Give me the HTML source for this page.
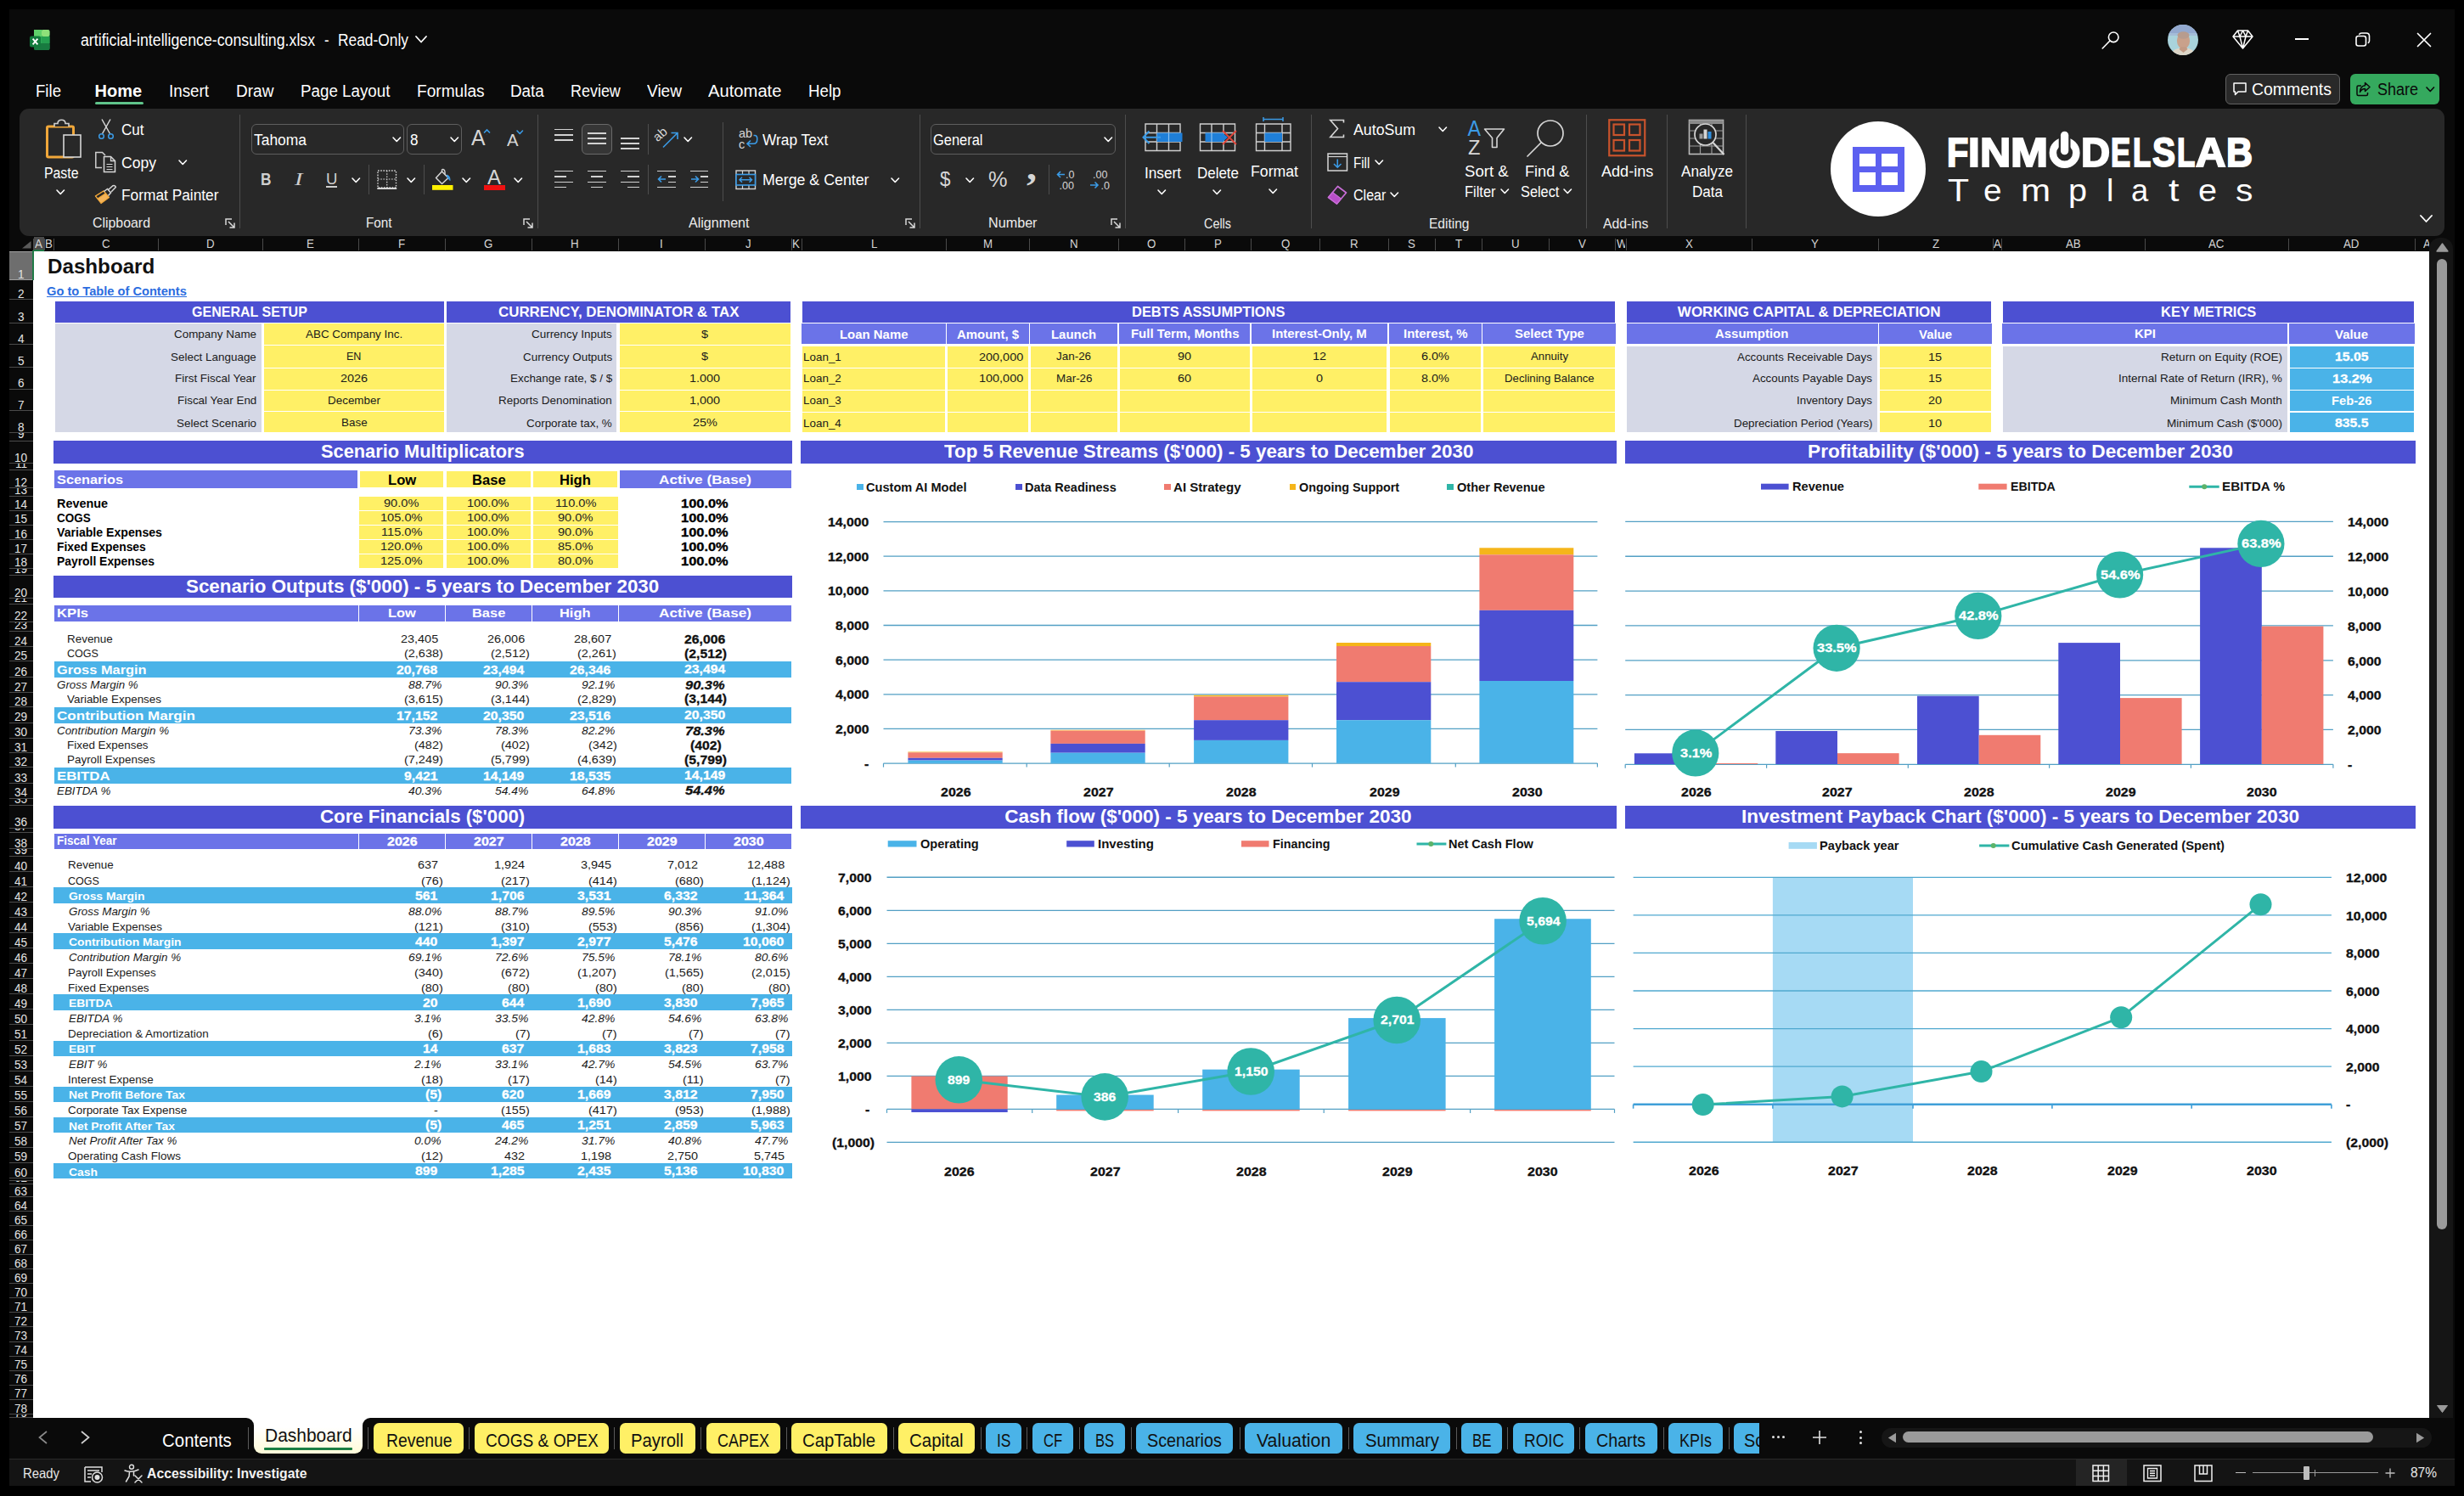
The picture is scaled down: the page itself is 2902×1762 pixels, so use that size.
<!DOCTYPE html>
<html><head><meta charset="utf-8"><title>artificial-intelligence-consulting.xlsx - Excel</title>
<style>
html,body{margin:0;padding:0;background:#000;}
body{width:2902px;height:1762px;position:relative;overflow:hidden;font-family:"Liberation Sans",sans-serif;}
.r{position:absolute;display:block;}
.t{position:absolute;white-space:nowrap;line-height:1;transform-origin:0 0;font-family:"Liberation Sans",sans-serif;}
.b{font-weight:bold;}
.i{font-style:italic;}
.s{font-family:"Liberation Serif",serif;}
svg{overflow:visible;}
</style></head><body>
<div class="r" style="left:11px;top:11px;width:2879.5px;height:1739px;background:#0a0a0a;"></div>
<svg class="r" style="left:35px;top:35px;" width="24" height="25" viewBox="0 0 24 25"><rect x="5" y="0" width="18.5" height="24" rx="2.5" fill="#1f8a4c"/>
<rect x="5" y="0" width="9.5" height="8" fill="#5fd06a"/><rect x="14" y="0" width="9.5" height="8" rx="2" fill="#8fe07a"/>
<rect x="5" y="8" width="9.5" height="8" fill="#2eaa58"/><rect x="14" y="8" width="9.5" height="8" fill="#25a050"/>
<rect x="5" y="16" width="18.5" height="8" rx="2" fill="#187a40"/>
<rect x="0" y="7.5" width="13" height="13" rx="2" fill="#127b3c"/>
<path d="M3.6 10.6 L9.4 17.4 M9.4 10.6 L3.6 17.4" stroke="#fff" stroke-width="1.9"/></svg>
<div class="t" style="left:95px;top:37.07px;font-size:20px;color:#fff;transform:scaleX(0.887);">artificial-intelligence-consulting.xlsx</div>
<div class="t" style="left:382px;top:37.07px;font-size:20px;color:#fff;transform:scaleX(0.826);">-</div>
<div class="t" style="left:398px;top:37.07px;font-size:20px;color:#fff;transform:scaleX(0.868);">Read-Only</div>
<svg class="r" style="left:488.5px;top:42.25px;" width="14" height="8.5" viewBox="0 0 14 8.5"><path d="M1 1 L7 7.5 L13 1" fill="none" stroke="#fff" stroke-width="1.8" stroke-linecap="round" stroke-linejoin="round"/></svg>
<svg class="r" style="left:2474px;top:35px;" width="24" height="24" viewBox="0 0 24 24"><circle cx="15.2" cy="8.8" r="5.8" fill="none" stroke="#fff" stroke-width="1.6"/><path d="M11 13 L2.2 22" stroke="#fff" stroke-width="1.6" stroke-linecap="round"/></svg>
<svg class="r" style="left:2552.8px;top:29px;" width="36" height="36" viewBox="0 0 36 36"><defs><clipPath id="av"><circle cx="18" cy="18" r="18"/></clipPath></defs>
<g clip-path="url(#av)"><rect width="36" height="36" fill="#a9d3dc"/><rect y="0" width="36" height="10" fill="#93a9cf"/><rect y="10" width="36" height="3" fill="#a4bdd8"/>
<path d="M3 36 Q6 27.500 18.500 27 Q31 27.500 33 36 Z" fill="#ddd6c8"/>
<ellipse cx="18.500" cy="19" rx="7.600" ry="9.600" fill="#c9a18b"/><ellipse cx="18.500" cy="12.500" rx="7" ry="4.200" fill="#b79c8e"/>
<path d="M13.500 29 L18.500 33 L23.500 29 L22 26.500 H15 Z" fill="#c29a84"/></g></svg>
<svg class="r" style="left:2629px;top:35px;" width="25" height="23" viewBox="0 0 25 23"><path d="M6.5 1 H18.5 L24 8 L12.500 22 L1 8 Z M1 8 H24 M6.500 1 L9 8 L12.500 22 L16 8 L18.500 1 M9 8 L12.5 1 L16 8" fill="none" stroke="#fff" stroke-width="1.5" stroke-linejoin="round"/></svg>
<div class="r" style="left:2703px;top:45.2px;width:15.5px;height:1.6px;background:#fff;"></div>
<svg class="r" style="left:2774px;top:38px;" width="18" height="18" viewBox="0 0 18 18"><rect x="1" y="4.5" width="11.5" height="11.5" rx="2.5" fill="none" stroke="#fff" stroke-width="1.6"/><path d="M4.5 2.8 Q5 1 7.500 1 H13 Q16.500 1 16.500 4.500 V10 Q16.500 12.200 14.800 12.800" fill="none" stroke="#fff" stroke-width="1.6"/></svg>
<svg class="r" style="left:2846px;top:38px;" width="18" height="18" viewBox="0 0 18 18"><path d="M1.5 1.5 L16.500 16.500 M16.500 1.500 L1.500 16.500" stroke="#fff" stroke-width="1.7" stroke-linecap="round"/></svg>
<div class="t" style="left:42px;top:96.77px;font-size:20px;color:#fff;transform:scaleX(0.931);">File</div>
<div class="t b" style="left:111.5px;top:96.77px;font-size:20px;color:#fff;">Home</div>
<div class="t" style="left:198.5px;top:96.77px;font-size:20px;color:#fff;transform:scaleX(0.940);">Insert</div>
<div class="t" style="left:277.6px;top:96.77px;font-size:20px;color:#fff;transform:scaleX(0.951);">Draw</div>
<div class="t" style="left:353.6px;top:96.77px;font-size:20px;color:#fff;transform:scaleX(0.938);">Page Layout</div>
<div class="t" style="left:491.4px;top:96.77px;font-size:20px;color:#fff;transform:scaleX(0.955);">Formulas</div>
<div class="t" style="left:600.6px;top:96.77px;font-size:20px;color:#fff;transform:scaleX(0.942);">Data</div>
<div class="t" style="left:671.7px;top:96.77px;font-size:20px;color:#fff;transform:scaleX(0.897);">Review</div>
<div class="t" style="left:762px;top:96.77px;font-size:20px;color:#fff;transform:scaleX(0.954);">View</div>
<div class="t" style="left:834px;top:96.77px;font-size:20px;color:#fff;transform:scaleX(1.010);">Automate</div>
<div class="t" style="left:951.7px;top:96.77px;font-size:20px;color:#fff;transform:scaleX(0.936);">Help</div>
<div class="r" style="left:111.5px;top:119.8px;width:57.5px;height:3px;background:#5fc38a;border-radius:1.5px;"></div>
<div class="r" style="left:2621px;top:87px;width:135px;height:36px;background:#292929;border-radius:6px;border:1px solid #616161;box-sizing:border-box;"></div>
<svg class="r" style="left:2628.5px;top:96px;" width="18" height="18" viewBox="0 0 18 18"><path d="M2 2 H16 V12 H7 L3.5 15.5 V12 H2 Z" fill="none" stroke="#fff" stroke-width="1.5" stroke-linejoin="round"/></svg>
<div class="t" style="left:2652px;top:95.07px;font-size:20px;color:#fff;transform:scaleX(0.972);">Comments</div>
<div class="r" style="left:2768px;top:87px;width:105px;height:36px;background:#35a95e;border-radius:6px;"></div>
<svg class="r" style="left:2773.5px;top:96px;" width="19" height="18" viewBox="0 0 19 18"><path d="M7 5 H3.5 Q2 5 2 6.500 V15 Q2 16.500 3.500 16.500 H13 Q14.500 16.500 14.500 15 V13" fill="none" stroke="#0a0a0a" stroke-width="1.5"/><path d="M11.5 1.5 L17 6.500 L11.500 11.500 V8.500 Q7.500 8.500 5.500 12.500 Q5.800 5.200 11.500 4.700 Z" fill="none" stroke="#0a0a0a" stroke-width="1.5" stroke-linejoin="round"/></svg>
<div class="t" style="left:2800px;top:95.07px;font-size:20px;color:#0a0a0a;transform:scaleX(0.899);">Share</div>
<svg class="r" style="left:2857.05px;top:101.75px;" width="10.5" height="6.5" viewBox="0 0 10.5 6.5"><path d="M1 1 L5.25 5.5 L9.5 1" fill="none" stroke="#0a0a0a" stroke-width="1.7" stroke-linecap="round" stroke-linejoin="round"/></svg>
<div class="r" style="left:23px;top:128px;width:2855.8px;height:149.8px;background:#282828;border-radius:11px;"></div>
<svg class="r" style="left:54px;top:140px;" width="44" height="48" viewBox="0 0 44 48"><rect x="1.5" y="9" width="31" height="36" rx="1.5" fill="none" stroke="#f0a73a" stroke-width="3"/>
<path d="M10 9 V5.500 H14 Q14 1.200 18.500 1.200 Q23 1.200 23 5.500 H27 V9" fill="#282828" stroke="#cfcfcf" stroke-width="1.6"/>
<rect x="21" y="19" width="20" height="26" fill="#282828" stroke="#d6d6d6" stroke-width="1.6"/></svg>
<div class="t" style="left:51.5px;top:194.76px;font-size:18px;color:#fff;transform:scaleX(0.880);">Paste</div>
<svg class="r" style="left:66.05px;top:223.25px;" width="10.5" height="6.5" viewBox="0 0 10.5 6.5"><path d="M1 1 L5.25 5.5 L9.5 1" fill="none" stroke="#fff" stroke-width="1.6" stroke-linecap="round" stroke-linejoin="round"/></svg>
<svg class="r" style="left:115px;top:139px;" width="20" height="27" viewBox="0 0 20 27"><path d="M5 1.500 L14.500 18.500 M15 1.500 L5.500 18.500" stroke="#d6d6d6" stroke-width="1.5" fill="none"/>
<circle cx="4.5" cy="21.5" r="2.800" fill="none" stroke="#3b9be6" stroke-width="1.5"/><circle cx="15.5" cy="21.5" r="2.800" fill="none" stroke="#3b9be6" stroke-width="1.5"/></svg>
<div class="t" style="left:142.5px;top:143.76px;font-size:18px;color:#fff;transform:scaleX(0.946);">Cut</div>
<svg class="r" style="left:111px;top:178px;" width="27" height="26" viewBox="0 0 27 26"><path d="M9 19.500 H1.800 V1.500 H9.500 L13 5" fill="none" stroke="#cfcfcf" stroke-width="1.5"/>
<path d="M11.5 6.500 H19.500 L24.500 11.500 V24.500 H11.500 Z" fill="#282828" stroke="#d6d6d6" stroke-width="1.5"/><path d="M19.500 6.500 V11.500 H24.500" fill="none" stroke="#d6d6d6" stroke-width="1.3"/>
<path d="M14.500 15.500 H21.500 M14.500 18.500 H21.500 M14.500 21.500 H21.500" stroke="#d6d6d6" stroke-width="1.100"/></svg>
<div class="t" style="left:142.5px;top:183.26px;font-size:18px;color:#fff;transform:scaleX(0.976);">Copy</div>
<svg class="r" style="left:210.05px;top:188.25px;" width="10.5" height="6.5" viewBox="0 0 10.5 6.5"><path d="M1 1 L5.25 5.5 L9.5 1" fill="none" stroke="#fff" stroke-width="1.6" stroke-linecap="round" stroke-linejoin="round"/></svg>
<svg class="r" style="left:111px;top:217px;" width="27" height="24" viewBox="0 0 27 24"><path d="M1.500 14 L11 8 L17.500 15.500 L8 22.500 Z" fill="#f3b45a" stroke="#f0a73a" stroke-width="1.200" stroke-linejoin="round"/>
<path d="M1.500 14 L11 8 L13.500 10.800 L4 17 Z" fill="#282828" stroke="#f0a73a" stroke-width="1.200"/>
<path d="M11.500 8.500 L15.500 5.500 L19.500 10 L16.500 13.500" fill="none" stroke="#d6d6d6" stroke-width="1.500"/>
<path d="M16.500 6.500 L22 1.800 Q24.800 1 25.300 3.500 L20 9" fill="none" stroke="#d6d6d6" stroke-width="1.500"/></svg>
<div class="t" style="left:142.5px;top:220.76px;font-size:18px;color:#fff;transform:scaleX(0.962);">Format Painter</div>
<div class="t" style="left:109px;top:253.61px;font-size:17px;color:#ececec;transform:scaleX(0.934);">Clipboard</div>
<svg class="r" style="left:265px;top:257px;" width="12" height="12" viewBox="0 0 12 12"><path d="M1 8 V1 H8 M4 4 L11 11 M11 5.5 V11 H5.5" fill="none" stroke="#d8d8d8" stroke-width="1.5"/></svg>
<div class="r" style="left:282px;top:135px;width:1px;height:134px;background:#4d4d4d;"></div>
<div class="r" style="left:295.5px;top:146.4px;width:180px;height:35.2px;background:#282828;border-radius:6px;border:1px solid #5e5e5e;box-sizing:border-box;"></div>
<div class="t" style="left:299px;top:155.76px;font-size:18px;color:#fff;transform:scaleX(0.968);">Tahoma</div>
<svg class="r" style="left:462.25px;top:160.75px;" width="10.5" height="6.5" viewBox="0 0 10.5 6.5"><path d="M1 1 L5.25 5.5 L9.5 1" fill="none" stroke="#fff" stroke-width="1.6" stroke-linecap="round" stroke-linejoin="round"/></svg>
<div class="r" style="left:479px;top:146.4px;width:65px;height:35.2px;background:#282828;border-radius:6px;border:1px solid #5e5e5e;box-sizing:border-box;"></div>
<div class="t" style="left:482.5px;top:155.76px;font-size:18px;color:#fff;transform:scaleX(0.949);">8</div>
<svg class="r" style="left:530.25px;top:160.75px;" width="10.5" height="6.5" viewBox="0 0 10.5 6.5"><path d="M1 1 L5.25 5.5 L9.5 1" fill="none" stroke="#fff" stroke-width="1.6" stroke-linecap="round" stroke-linejoin="round"/></svg>
<div class="t" style="left:554.5px;top:149.49px;font-size:26px;color:#d6d6d6;transform:scaleX(0.951);">A</div>
<svg class="r" style="left:569.25px;top:152.75px;" width="8.5" height="5.5" viewBox="0 0 8.5 5.5"><path d="M1 1 L4.25 4.5 L7.5 1" fill="none" stroke="#3b9be6" stroke-width="1.6" stroke-linecap="round" stroke-linejoin="round"/></svg>
<svg class="r" style="left:569px;top:151.5px;background:#282828;" width="9" height="6" viewBox="0 0 9 6"><path d="M1 4.500 L4.500 1 L8 4.500" fill="none" stroke="#3b9be6" stroke-width="1.600"/></svg>
<div class="t" style="left:596.5px;top:153.72px;font-size:21px;color:#d6d6d6;transform:scaleX(0.964);">A</div>
<svg class="r" style="left:608.25px;top:152.75px;" width="8.5" height="5.5" viewBox="0 0 8.5 5.5"><path d="M1 1 L4.25 4.5 L7.5 1" fill="none" stroke="#3b9be6" stroke-width="1.6" stroke-linecap="round" stroke-linejoin="round"/></svg>
<div class="t b" style="left:307px;top:201.07px;font-size:20px;color:#cfcfcf;transform:scaleX(0.865);">B</div>
<div class="t i s" style="left:346.6px;top:201.33px;font-size:20px;color:#cfcfcf;transform:scaleX(1.426);">I</div>
<div class="t" style="left:383.6px;top:200.92px;font-size:19px;color:#cfcfcf;transform:scaleX(0.977);">U</div>
<div class="r" style="left:383.6px;top:219.3px;width:13.4px;height:1.5px;background:#cfcfcf;"></div>
<svg class="r" style="left:414.25px;top:209.45px;" width="10.5" height="6.5" viewBox="0 0 10.5 6.5"><path d="M1 1 L5.25 5.5 L9.5 1" fill="none" stroke="#fff" stroke-width="1.6" stroke-linecap="round" stroke-linejoin="round"/></svg>
<div class="r" style="left:433.9px;top:194px;width:1px;height:35px;background:#4d4d4d;"></div>
<svg class="r" style="left:444px;top:200px;" width="24" height="24" viewBox="0 0 24 24"><rect x="1" y="1" width="21.500" height="20" fill="none" stroke="#d6d6d6" stroke-width="1.400" stroke-dasharray="1.6 1.6"/>
<path d="M11.750 1 V21 M1 11 H22.500" stroke="#d6d6d6" stroke-width="1.200" stroke-dasharray="1.6 1.6"/><path d="M0.3 22 H23.200" stroke="#e6e6e6" stroke-width="1.800"/></svg>
<svg class="r" style="left:479.25px;top:209.45px;" width="10.5" height="6.5" viewBox="0 0 10.5 6.5"><path d="M1 1 L5.25 5.5 L9.5 1" fill="none" stroke="#fff" stroke-width="1.6" stroke-linecap="round" stroke-linejoin="round"/></svg>
<div class="r" style="left:498.9px;top:194px;width:1px;height:35px;background:#4d4d4d;"></div>
<svg class="r" style="left:509px;top:199px;" width="26" height="26" viewBox="0 0 26 26"><path d="M4.500 10.500 L11.500 3 L19 10.500 L11.500 17.500 Z" fill="none" stroke="#d6d6d6" stroke-width="1.500" stroke-linejoin="round"/>
<path d="M11.500 3 V1.200 Q11.500 0.300 13 0.500 Q15 1 15 3.500 V6.500" fill="none" stroke="#d6d6d6" stroke-width="1.400"/>
<path d="M17.500 7 Q21 8 21 13.500 Q18.500 11 17.800 9.300 Z" fill="#3b9be6" stroke="#3b9be6" stroke-width="1"/>
<rect x="0" y="19" width="24.500" height="5.800" fill="#fff100"/></svg>
<svg class="r" style="left:543.95px;top:209.45px;" width="10.5" height="6.5" viewBox="0 0 10.5 6.5"><path d="M1 1 L5.25 5.5 L9.5 1" fill="none" stroke="#fff" stroke-width="1.6" stroke-linecap="round" stroke-linejoin="round"/></svg>
<div class="t" style="left:574px;top:197.53px;font-size:23px;color:#d6d6d6;transform:scaleX(1.043);">A</div>
<div class="r" style="left:570px;top:218.2px;width:24.5px;height:5.8px;background:#ee1111;"></div>
<svg class="r" style="left:604.75px;top:209.45px;" width="10.5" height="6.5" viewBox="0 0 10.5 6.5"><path d="M1 1 L5.25 5.5 L9.5 1" fill="none" stroke="#fff" stroke-width="1.6" stroke-linecap="round" stroke-linejoin="round"/></svg>
<div class="t" style="left:430.7px;top:253.61px;font-size:17px;color:#ececec;transform:scaleX(0.897);">Font</div>
<svg class="r" style="left:616px;top:257px;" width="12" height="12" viewBox="0 0 12 12"><path d="M1 8 V1 H8 M4 4 L11 11 M11 5.5 V11 H5.5" fill="none" stroke="#d8d8d8" stroke-width="1.5"/></svg>
<div class="r" style="left:633px;top:135px;width:1px;height:134px;background:#4d4d4d;"></div>
<div class="r" style="left:652.7px;top:151.9px;width:22.3px;height:1.6px;background:#d2d2d2;"></div>
<div class="r" style="left:652.7px;top:158.2px;width:22.3px;height:1.6px;background:#d2d2d2;"></div>
<div class="r" style="left:652.7px;top:164px;width:22.3px;height:1.6px;background:#d2d2d2;"></div>
<div class="r" style="left:685px;top:146.4px;width:36px;height:35.2px;background:#363636;border-radius:6px;border:1px solid #6a6a6a;box-sizing:border-box;"></div>
<div class="r" style="left:691.7px;top:156.2px;width:21.9px;height:1.6px;background:#d2d2d2;"></div>
<div class="r" style="left:691.7px;top:162.2px;width:21.9px;height:1.6px;background:#d2d2d2;"></div>
<div class="r" style="left:691.7px;top:168.2px;width:21.9px;height:1.6px;background:#d2d2d2;"></div>
<div class="r" style="left:731px;top:162.2px;width:22px;height:1.6px;background:#d2d2d2;"></div>
<div class="r" style="left:731px;top:168.2px;width:22px;height:1.6px;background:#d2d2d2;"></div>
<div class="r" style="left:731px;top:174.2px;width:22px;height:1.6px;background:#d2d2d2;"></div>
<div class="r" style="left:762.9px;top:146.4px;width:1px;height:35.2px;background:#4d4d4d;"></div>
<svg class="r" style="left:772px;top:150px;" width="28" height="26" viewBox="0 0 28 26"><text x="0" y="0" transform="translate(2.5,17.5) rotate(-42)" font-family="Liberation Sans" font-size="15" fill="#d6d6d6">ab</text>
<path d="M9 23.500 L25.500 7 M18.500 6.500 H26 V14" fill="none" stroke="#3b9be6" stroke-width="1.600"/></svg>
<svg class="r" style="left:805.25px;top:160.75px;" width="10.5" height="6.5" viewBox="0 0 10.5 6.5"><path d="M1 1 L5.25 5.5 L9.5 1" fill="none" stroke="#fff" stroke-width="1.6" stroke-linecap="round" stroke-linejoin="round"/></svg>
<div class="r" style="left:850.5px;top:144px;width:1px;height:93px;background:#4d4d4d;"></div>
<svg class="r" style="left:869px;top:151px;" width="24" height="26" viewBox="0 0 24 26"><text x="1" y="11" font-family="Liberation Sans" font-size="14.500" fill="#d6d6d6">ab</text><text x="1" y="23.500" font-family="Liberation Sans" font-size="14.500" fill="#d6d6d6">c</text>
<path d="M18.500 8.500 H20 Q22.800 8.500 22.800 12.800 Q22.800 18.300 18.500 18.300 H11.500 M15 14.500 L11 18.300 L15 22" fill="none" stroke="#3b9be6" stroke-width="1.600"/></svg>
<div class="t" style="left:897.5px;top:155.76px;font-size:18px;color:#fff;transform:scaleX(0.962);">Wrap Text</div>
<svg class="r" style="left:866px;top:199.5px;" width="25" height="24" viewBox="0 0 25 24"><rect x="1" y="1" width="22.500" height="21.500" fill="none" stroke="#d6d6d6" stroke-width="1.400"/><path d="M8.500 1 V5.500 M16 1 V5.500 M8.500 18 V22.500 M16 18 V22.500" stroke="#d6d6d6" stroke-width="1.200"/>
<rect x="1" y="5.500" width="22.500" height="12.500" fill="#282828" stroke="#3b9be6" stroke-width="1.600"/>
<path d="M5 11.750 H19.500 M8 8.800 L5 11.750 L8 14.700 M16.500 8.800 L19.500 11.750 L16.500 14.700" fill="none" stroke="#3b9be6" stroke-width="1.500"/></svg>
<div class="t" style="left:897.5px;top:203.36px;font-size:18px;color:#fff;transform:scaleX(0.988);">Merge &amp; Center</div>
<svg class="r" style="left:1049.15px;top:209.45px;" width="10.5" height="6.5" viewBox="0 0 10.5 6.5"><path d="M1 1 L5.25 5.5 L9.5 1" fill="none" stroke="#fff" stroke-width="1.6" stroke-linecap="round" stroke-linejoin="round"/></svg>
<div class="r" style="left:652.7px;top:200.9px;width:22.3px;height:1.6px;background:#d2d2d2;"></div>
<div class="r" style="left:652.7px;top:207.2px;width:14.3px;height:1.6px;background:#d2d2d2;"></div>
<div class="r" style="left:652.7px;top:213.5px;width:22.3px;height:1.6px;background:#d2d2d2;"></div>
<div class="r" style="left:652.7px;top:219.7px;width:14.3px;height:1.6px;background:#d2d2d2;"></div>
<div class="r" style="left:691.7px;top:200.9px;width:21.9px;height:1.6px;background:#d2d2d2;"></div>
<div class="r" style="left:695.5px;top:207.2px;width:14.3px;height:1.6px;background:#d2d2d2;"></div>
<div class="r" style="left:691.7px;top:213.5px;width:21.9px;height:1.6px;background:#d2d2d2;"></div>
<div class="r" style="left:695.5px;top:219.7px;width:14.3px;height:1.6px;background:#d2d2d2;"></div>
<div class="r" style="left:731px;top:200.9px;width:22px;height:1.6px;background:#d2d2d2;"></div>
<div class="r" style="left:739px;top:207.2px;width:14px;height:1.6px;background:#d2d2d2;"></div>
<div class="r" style="left:731px;top:213.5px;width:22px;height:1.6px;background:#d2d2d2;"></div>
<div class="r" style="left:739px;top:219.7px;width:14px;height:1.6px;background:#d2d2d2;"></div>
<div class="r" style="left:762.9px;top:194px;width:1px;height:35px;background:#4d4d4d;"></div>
<div class="r" style="left:774px;top:200.9px;width:21.8px;height:1.6px;background:#d2d2d2;"></div>
<div class="r" style="left:786.5px;top:207.2px;width:9.3px;height:1.6px;background:#d2d2d2;"></div>
<div class="r" style="left:786.5px;top:213.5px;width:9.3px;height:1.6px;background:#d2d2d2;"></div>
<div class="r" style="left:774px;top:219.7px;width:21.8px;height:1.6px;background:#d2d2d2;"></div>
<svg class="r" style="left:774px;top:205px;" width="12" height="12" viewBox="0 0 12 12"><path d="M10 6 H1.500 M5 2.500 L1.500 6 L5 9.500" fill="none" stroke="#3b9be6" stroke-width="1.600"/></svg>
<div class="r" style="left:812.5px;top:200.9px;width:21.8px;height:1.6px;background:#d2d2d2;"></div>
<div class="r" style="left:825px;top:207.2px;width:9.3px;height:1.6px;background:#d2d2d2;"></div>
<div class="r" style="left:825px;top:213.5px;width:9.3px;height:1.6px;background:#d2d2d2;"></div>
<div class="r" style="left:812.5px;top:219.7px;width:21.8px;height:1.6px;background:#d2d2d2;"></div>
<svg class="r" style="left:812.5px;top:205px;" width="12" height="12" viewBox="0 0 12 12"><path d="M1 6 H9.500 M6 2.500 L9.500 6 L6 9.500" fill="none" stroke="#3b9be6" stroke-width="1.600"/></svg>
<div class="t" style="left:810.5px;top:253.61px;font-size:17px;color:#ececec;transform:scaleX(0.946);">Alignment</div>
<svg class="r" style="left:1066px;top:257px;" width="12" height="12" viewBox="0 0 12 12"><path d="M1 8 V1 H8 M4 4 L11 11 M11 5.5 V11 H5.5" fill="none" stroke="#d8d8d8" stroke-width="1.5"/></svg>
<div class="r" style="left:1082.5px;top:135px;width:1px;height:134px;background:#4d4d4d;"></div>
<div class="r" style="left:1096.3px;top:146.4px;width:217.3px;height:35.2px;background:#282828;border-radius:6px;border:1px solid #5e5e5e;box-sizing:border-box;"></div>
<div class="t" style="left:1099.4px;top:155.76px;font-size:18px;color:#fff;transform:scaleX(0.914);">General</div>
<svg class="r" style="left:1299.95px;top:160.75px;" width="10.5" height="6.5" viewBox="0 0 10.5 6.5"><path d="M1 1 L5.25 5.5 L9.5 1" fill="none" stroke="#fff" stroke-width="1.6" stroke-linecap="round" stroke-linejoin="round"/></svg>
<div class="t" style="left:1107px;top:199.18px;font-size:24px;color:#d6d6d6;transform:scaleX(0.936);">$</div>
<svg class="r" style="left:1137.05px;top:209.45px;" width="10.5" height="6.5" viewBox="0 0 10.5 6.5"><path d="M1 1 L5.25 5.5 L9.5 1" fill="none" stroke="#fff" stroke-width="1.6" stroke-linecap="round" stroke-linejoin="round"/></svg>
<div class="t" style="left:1163.5px;top:198.84px;font-size:25px;color:#d6d6d6;transform:scaleX(1.012);">%</div>
<div class="t b s" style="left:1209px;top:175.83px;font-size:44px;color:#d6d6d6;transform:scaleX(1.091);">,</div>
<div class="r" style="left:1235.1px;top:194px;width:1px;height:35px;background:#4d4d4d;"></div>
<svg class="r" style="left:1244px;top:199px;" width="26" height="26" viewBox="0 0 26 26"><text x="11" y="11" font-family="Liberation Sans" font-size="12.500" fill="#d6d6d6">.0</text><text x="3.500" y="23.500" font-family="Liberation Sans" font-size="12.500" fill="#d6d6d6">.00</text>
<path d="M10 6.500 H1.500 M5 3 L1.500 6.500 L5 10" fill="none" stroke="#3b9be6" stroke-width="1.600"/></svg>
<svg class="r" style="left:1283px;top:199px;" width="26" height="26" viewBox="0 0 26 26"><text x="4" y="11" font-family="Liberation Sans" font-size="12.500" fill="#d6d6d6">.00</text><text x="13.500" y="23.500" font-family="Liberation Sans" font-size="12.500" fill="#d6d6d6">.0</text>
<path d="M1 19 H10 M6.500 15.500 L10 19 L6.500 22.500" fill="none" stroke="#3b9be6" stroke-width="1.600"/></svg>
<div class="t" style="left:1163.5px;top:253.61px;font-size:17px;color:#ececec;transform:scaleX(0.951);">Number</div>
<svg class="r" style="left:1308px;top:257px;" width="12" height="12" viewBox="0 0 12 12"><path d="M1 8 V1 H8 M4 4 L11 11 M11 5.5 V11 H5.5" fill="none" stroke="#d8d8d8" stroke-width="1.5"/></svg>
<div class="r" style="left:1324.5px;top:135px;width:1px;height:134px;background:#4d4d4d;"></div>
<svg class="r" style="left:1345px;top:145px;" width="50" height="34" viewBox="0 0 50 34"><path d="M4 1 H45 V32.5 H4 Z M4 11.5 H45 M4 22 H45 M17.5 1 V32.5 M31.5 1 V32.5" fill="none" stroke="#d0d0d0" stroke-width="1.400"/><rect x="17.500" y="11.500" width="30" height="10.500" fill="#1f7fd8"/><path d="M31.500 11.500 V22" stroke="#8cc4f4" stroke-width="1.200"/><path d="M22 16.750 H2 M8.500 9.500 L1.500 16.750 L8.500 24" fill="none" stroke="#3b9be6" stroke-width="2"/></svg>
<div class="t" style="left:1348px;top:194.76px;font-size:18px;color:#fff;transform:scaleX(0.955);">Insert</div>
<svg class="r" style="left:1362.75px;top:223.25px;" width="10.5" height="6.5" viewBox="0 0 10.5 6.5"><path d="M1 1 L5.25 5.5 L9.5 1" fill="none" stroke="#fff" stroke-width="1.6" stroke-linecap="round" stroke-linejoin="round"/></svg>
<svg class="r" style="left:1412px;top:145px;" width="48" height="34" viewBox="0 0 48 34"><path d="M1.5 1 H42.5 V32.5 H1.5 Z M1.5 11.5 H42.5 M1.5 22 H42.5 M15 1 V32.5 M29 1 V32.5" fill="none" stroke="#d0d0d0" stroke-width="1.400"/><rect x="7.500" y="11.500" width="21.500" height="10.500" fill="#1f7fd8"/><path d="M15 11.500 V22" stroke="#8cc4f4" stroke-width="1.200"/><path d="M28 11.500 L34 16.750 L28 22 Z" fill="#1f7fd8"/><path d="M28 9 L44 25 M44 9 L28 25" stroke="#e0453a" stroke-width="1.800"/></svg>
<div class="t" style="left:1410px;top:194.76px;font-size:18px;color:#fff;transform:scaleX(0.942);">Delete</div>
<svg class="r" style="left:1428.05px;top:223.25px;" width="10.5" height="6.5" viewBox="0 0 10.5 6.5"><path d="M1 1 L5.25 5.5 L9.5 1" fill="none" stroke="#fff" stroke-width="1.6" stroke-linecap="round" stroke-linejoin="round"/></svg>
<svg class="r" style="left:1478px;top:137px;" width="44" height="42" viewBox="0 0 44 42"><path d="M10 3.500 H33 M10 1 V6 M33 1 V6" stroke="#3b9be6" stroke-width="1.500" fill="none"/><path d="M1.5 9 H42 V40.5 H1.5 Z M1.5 19.5 H42 M1.5 30 H42 M11.5 9 V40.5 M32 9 V40.5" fill="none" stroke="#d0d0d0" stroke-width="1.400"/><rect x="11.500" y="19.500" width="20.500" height="10.500" fill="#1f7fd8"/></svg>
<div class="t" style="left:1473px;top:192.76px;font-size:18px;color:#fff;transform:scaleX(0.982);">Format</div>
<svg class="r" style="left:1494.25px;top:221.55px;" width="10.5" height="6.5" viewBox="0 0 10.5 6.5"><path d="M1 1 L5.25 5.5 L9.5 1" fill="none" stroke="#fff" stroke-width="1.6" stroke-linecap="round" stroke-linejoin="round"/></svg>
<div class="t" style="left:1418px;top:254.61px;font-size:17px;color:#ececec;transform:scaleX(0.847);">Cells</div>
<div class="r" style="left:1544.1px;top:135px;width:1px;height:134px;background:#4d4d4d;"></div>
<svg class="r" style="left:1565px;top:140px;" width="20" height="24" viewBox="0 0 20 24"><path d="M17.500 4.500 V1.500 H1.800 L10.500 11.500 L1.800 21.500 H17.500 V18.500" fill="none" stroke="#d6d6d6" stroke-width="1.600" stroke-linejoin="miter"/></svg>
<div class="t" style="left:1593.7px;top:143.76px;font-size:18px;color:#fff;transform:scaleX(0.986);">AutoSum</div>
<svg class="r" style="left:1694.05px;top:149.25px;" width="10.5" height="6.5" viewBox="0 0 10.5 6.5"><path d="M1 1 L5.25 5.5 L9.5 1" fill="none" stroke="#fff" stroke-width="1.6" stroke-linecap="round" stroke-linejoin="round"/></svg>
<svg class="r" style="left:1563px;top:179.5px;" width="25" height="23" viewBox="0 0 25 23"><rect x="1" y="1" width="22.500" height="20" fill="none" stroke="#d6d6d6" stroke-width="1.500"/><path d="M1 4.500 H23.500" stroke="#d6d6d6" stroke-width="1.200"/><path d="M12.250 7.500 V17 M8 13 L12.250 17.200 L16.500 13" fill="none" stroke="#3b9be6" stroke-width="1.600"/></svg>
<div class="t" style="left:1593.7px;top:182.76px;font-size:18px;color:#fff;transform:scaleX(0.839);">Fill</div>
<svg class="r" style="left:1619.25px;top:187.75px;" width="10.5" height="6.5" viewBox="0 0 10.5 6.5"><path d="M1 1 L5.25 5.5 L9.5 1" fill="none" stroke="#fff" stroke-width="1.6" stroke-linecap="round" stroke-linejoin="round"/></svg>
<svg class="r" style="left:1563px;top:218px;" width="25" height="24" viewBox="0 0 25 24"><path d="M12.500 1.500 L22.500 9 L11.500 22 L1.500 14.500 Z" fill="none" stroke="#c86dd7" stroke-width="1.700" stroke-linejoin="round"/><path d="M1.500 14.500 L6.500 8.500 L16.500 16 L11.500 22 Z" fill="#b84fc8" stroke="#c86dd7" stroke-width="1.200"/></svg>
<div class="t" style="left:1593.7px;top:221.26px;font-size:18px;color:#fff;transform:scaleX(0.890);">Clear</div>
<svg class="r" style="left:1637.25px;top:226.05px;" width="10.5" height="6.5" viewBox="0 0 10.5 6.5"><path d="M1 1 L5.25 5.5 L9.5 1" fill="none" stroke="#fff" stroke-width="1.6" stroke-linecap="round" stroke-linejoin="round"/></svg>
<svg class="r" style="left:1728px;top:141px;" width="46" height="42" viewBox="0 0 46 42"><text x="0.500" y="19" font-family="Liberation Sans" font-size="25" fill="#3b9be6" textLength="15.500" lengthAdjust="spacingAndGlyphs">A</text>
<text x="1" y="41" font-family="Liberation Sans" font-size="24" fill="#d6d6d6" textLength="14.500" lengthAdjust="spacingAndGlyphs">Z</text>
<path d="M20.500 11 H43.500 L35 21.500 V32.500 H29.500 V21.500 Z" fill="none" stroke="#d6d6d6" stroke-width="1.600" stroke-linejoin="round"/></svg>
<div class="t" style="left:1725px;top:192.76px;font-size:18px;color:#fff;transform:scaleX(1.032);">Sort &amp;</div>
<div class="t" style="left:1724.5px;top:216.76px;font-size:18px;color:#fff;transform:scaleX(0.912);">Filter</div>
<svg class="r" style="left:1767.05px;top:221.55px;" width="10.5" height="6.5" viewBox="0 0 10.5 6.5"><path d="M1 1 L5.25 5.5 L9.5 1" fill="none" stroke="#fff" stroke-width="1.6" stroke-linecap="round" stroke-linejoin="round"/></svg>
<svg class="r" style="left:1797px;top:140px;" width="47" height="47" viewBox="0 0 47 47"><circle cx="29" cy="17" r="15" fill="none" stroke="#d6d6d6" stroke-width="1.700"/><path d="M18 28 L2 44" stroke="#d6d6d6" stroke-width="1.700" stroke-linecap="round"/></svg>
<div class="t" style="left:1795.6px;top:192.76px;font-size:18px;color:#fff;transform:scaleX(1.007);">Find &amp;</div>
<div class="t" style="left:1790.6px;top:216.76px;font-size:18px;color:#fff;transform:scaleX(0.907);">Select</div>
<svg class="r" style="left:1841.25px;top:221.55px;" width="10.5" height="6.5" viewBox="0 0 10.5 6.5"><path d="M1 1 L5.25 5.5 L9.5 1" fill="none" stroke="#fff" stroke-width="1.6" stroke-linecap="round" stroke-linejoin="round"/></svg>
<div class="t" style="left:1682.5px;top:254.61px;font-size:17px;color:#ececec;transform:scaleX(0.914);">Editing</div>
<div class="r" style="left:1868.1px;top:135px;width:1px;height:134px;background:#4d4d4d;"></div>
<svg class="r" style="left:1894px;top:140px;" width="45" height="45" viewBox="0 0 45 45"><rect x="1.250" y="1.250" width="42" height="42" fill="none" stroke="#c8532c" stroke-width="2.200"/>
<g fill="none" stroke="#c8532c" stroke-width="2.200"><rect x="6.500" y="6.500" width="12.500" height="12.500"/><rect x="25" y="6.500" width="12.500" height="12.500"/><rect x="6.500" y="25" width="12.500" height="12.500"/><rect x="25" y="25" width="12.500" height="12.500"/></g></svg>
<div class="t" style="left:1885.7px;top:192.76px;font-size:18px;color:#fff;transform:scaleX(1.004);">Add-ins</div>
<div class="t" style="left:1888px;top:254.61px;font-size:17px;color:#ececec;transform:scaleX(0.928);">Add-ins</div>
<div class="r" style="left:1963.2px;top:135px;width:1px;height:134px;background:#4d4d4d;"></div>
<svg class="r" style="left:1988px;top:140px;" width="45" height="45" viewBox="0 0 45 45"><rect x="1.500" y="1.500" width="40" height="40" fill="none" stroke="#bdbdbd" stroke-width="1.600"/><rect x="1.500" y="1.500" width="40" height="4.500" fill="#8a8a8a"/>
<path d="M1.500 14 H41.500 M1.500 23 H41.500 M1.500 32 H41.500 M14.500 6 V41.500 M28 6 V41.500" stroke="#9a9a9a" stroke-width="1.200"/>
<circle cx="20.500" cy="18.500" r="12.500" fill="#282828" stroke="#d6d6d6" stroke-width="1.700"/>
<rect x="13.500" y="17.500" width="4" height="6" fill="#9a9a9a"/><rect x="18.500" y="12.500" width="4" height="11" fill="#d6d6d6"/><rect x="23.500" y="15" width="4" height="8.500" fill="#2f8fe0"/>
<path d="M29.500 28 L42.500 42" stroke="#d6d6d6" stroke-width="2.200"/></svg>
<div class="t" style="left:1980px;top:192.76px;font-size:18px;color:#fff;transform:scaleX(0.953);">Analyze</div>
<div class="t" style="left:1992.6px;top:216.76px;font-size:18px;color:#fff;transform:scaleX(0.947);">Data</div>
<div class="r" style="left:2055.5px;top:135px;width:1px;height:134px;background:#4d4d4d;"></div>
<div class="r" style="left:2156.1px;top:142.5px;width:112.4px;height:112.4px;background:#fff;border-radius:50%;"></div>
<div class="r" style="left:2182px;top:172.8px;width:61px;height:53.2px;background:#5c60f0;"></div>
<div class="r" style="left:2190.3px;top:181.1px;width:18.9px;height:14.9px;background:#fff;"></div>
<div class="r" style="left:2190.3px;top:203px;width:18.9px;height:14.6px;background:#fff;"></div>
<div class="r" style="left:2216.2px;top:181.1px;width:18.8px;height:14.9px;background:#fff;"></div>
<div class="r" style="left:2216.2px;top:203px;width:18.8px;height:14.6px;background:#fff;"></div>
<div class="t b" style="left:2293.13px;top:155.12px;font-size:49.0px;color:#fff;-webkit-text-stroke:2.0px #fff;transform:scaleX(0.845);">F</div>
<div class="t b" style="left:2318.4px;top:155.12px;font-size:49.0px;color:#fff;-webkit-text-stroke:2.0px #fff;transform:scaleX(1.006);">I</div>
<div class="t b" style="left:2332.34px;top:155.12px;font-size:49.0px;color:#fff;-webkit-text-stroke:2.0px #fff;transform:scaleX(1.024);">N</div>
<div class="t b" style="left:2368.46px;top:155.12px;font-size:49.0px;color:#fff;-webkit-text-stroke:2.0px #fff;transform:scaleX(1.080);">M</div>
<div class="t b" style="left:2450.74px;top:155.12px;font-size:49.0px;color:#fff;-webkit-text-stroke:2.0px #fff;transform:scaleX(0.965);">D</div>
<div class="t b" style="left:2486.27px;top:155.12px;font-size:49.0px;color:#fff;-webkit-text-stroke:2.0px #fff;transform:scaleX(0.709);">E</div>
<div class="t b" style="left:2511.88px;top:155.12px;font-size:49.0px;color:#fff;-webkit-text-stroke:2.0px #fff;transform:scaleX(0.708);">L</div>
<div class="t b" style="left:2534.53px;top:155.12px;font-size:49.0px;color:#fff;-webkit-text-stroke:2.0px #fff;transform:scaleX(0.828);">S</div>
<div class="t b" style="left:2563.77px;top:155.12px;font-size:49.0px;color:#fff;-webkit-text-stroke:2.0px #fff;transform:scaleX(0.712);">L</div>
<div class="t b" style="left:2586.38px;top:155.12px;font-size:49.0px;color:#fff;-webkit-text-stroke:2.0px #fff;transform:scaleX(1.001);">A</div>
<div class="t b" style="left:2621.93px;top:155.12px;font-size:49.0px;color:#fff;-webkit-text-stroke:2.0px #fff;transform:scaleX(0.877);">B</div>
<svg class="r" style="left:2408px;top:150px;" width="48" height="52" viewBox="0 0 48 52"><circle cx="23.600" cy="30.100" r="13.750" fill="none" stroke="#fff" stroke-width="8.500"/>
<rect x="16.700" y="2.500" width="13.800" height="31.800" rx="6.900" fill="#282828"/><rect x="18.950" y="4.700" width="9.300" height="27.600" rx="4.650" fill="#fff"/></svg>
<div class="t" style="left:2293.98px;top:205.66px;font-size:37.5px;color:#fff;transform:scaleX(1.094);">T</div>
<div class="t" style="left:2336.45px;top:205.66px;font-size:37.5px;color:#fff;transform:scaleX(1.034);">e</div>
<div class="t" style="left:2379.5px;top:205.66px;font-size:37.5px;color:#fff;transform:scaleX(1.123);">m</div>
<div class="t" style="left:2435.75px;top:205.66px;font-size:37.5px;color:#fff;transform:scaleX(1.056);">p</div>
<div class="t" style="left:2481.17px;top:205.66px;font-size:37.5px;color:#fff;transform:scaleX(1.001);">l</div>
<div class="t" style="left:2509.75px;top:205.66px;font-size:37.5px;color:#fff;transform:scaleX(0.971);">a</div>
<div class="t" style="left:2553.53px;top:205.66px;font-size:37.5px;color:#fff;transform:scaleX(1.202);">t</div>
<div class="t" style="left:2589.22px;top:205.66px;font-size:37.5px;color:#fff;transform:scaleX(1.057);">e</div>
<div class="t" style="left:2632.77px;top:205.66px;font-size:37.5px;color:#fff;transform:scaleX(1.088);">s</div>
<svg class="r" style="left:2849.5px;top:252.5px;" width="15" height="9" viewBox="0 0 15 9"><path d="M1 1 L7.5 8 L14 1" fill="none" stroke="#fff" stroke-width="1.8" stroke-linecap="round" stroke-linejoin="round"/></svg>
<div class="r" style="left:11px;top:278px;width:2850px;height:17.8px;background:#0a0a0a;"></div>
<svg class="r" style="left:26px;top:283.5px;" width="11" height="9" viewBox="0 0 11 9"><path d="M10.500 0 V8.500 H0 Z" fill="#5a5a5a"/></svg>
<div class="r" style="left:39.8px;top:279px;width:12.2px;height:16.8px;background:#4a4a4a;"></div>
<div class="r" style="left:39px;top:294.2px;width:13px;height:1.8px;background:#1e7a46;"></div>
<div class="r" style="left:39.3px;top:281px;width:1px;height:13px;background:#8a8a8a;"></div>
<div class="r" style="left:51.5px;top:281px;width:1px;height:13px;background:#8a8a8a;"></div>
<div class="r" style="left:51.5px;top:281px;width:1px;height:14.2px;background:#4a4a4a;"></div>
<div class="r" style="left:39.2px;top:279px;width:12.3px;height:16px;overflow:hidden;"><div class="t" style="left:1.65px;top:1.15px;font-size:14px;color:#d4d4d4;transform:scaleX(0.95);">A</div></div>
<div class="r" style="left:63px;top:281px;width:1px;height:14.2px;background:#4a4a4a;"></div>
<div class="r" style="left:52px;top:279px;width:11px;height:16px;overflow:hidden;"><div class="t" style="left:1px;top:1.15px;font-size:14px;color:#d4d4d4;transform:scaleX(0.95);">B</div></div>
<div class="r" style="left:185.5px;top:281px;width:1px;height:14.2px;background:#4a4a4a;"></div>
<div class="t" style="left:119.95px;top:280.15px;font-size:14px;color:#d4d4d4;transform:scaleX(0.950);">C</div>
<div class="r" style="left:308.5px;top:281px;width:1px;height:14.2px;background:#4a4a4a;"></div>
<div class="t" style="left:242.7px;top:280.15px;font-size:14px;color:#d4d4d4;transform:scaleX(0.950);">D</div>
<div class="r" style="left:421.5px;top:281px;width:1px;height:14.2px;background:#4a4a4a;"></div>
<div class="t" style="left:361.06px;top:280.15px;font-size:14px;color:#d4d4d4;transform:scaleX(0.950);">E</div>
<div class="r" style="left:523.5px;top:281px;width:1px;height:14.2px;background:#4a4a4a;"></div>
<div class="t" style="left:468.94px;top:280.15px;font-size:14px;color:#d4d4d4;transform:scaleX(0.950);">F</div>
<div class="r" style="left:625.5px;top:281px;width:1px;height:14.2px;background:#4a4a4a;"></div>
<div class="t" style="left:569.83px;top:280.15px;font-size:14px;color:#d4d4d4;transform:scaleX(0.950);">G</div>
<div class="r" style="left:727.5px;top:281px;width:1px;height:14.2px;background:#4a4a4a;"></div>
<div class="t" style="left:672.2px;top:280.15px;font-size:14px;color:#d4d4d4;transform:scaleX(0.950);">H</div>
<div class="r" style="left:829.5px;top:281px;width:1px;height:14.2px;background:#4a4a4a;"></div>
<div class="t" style="left:777.15px;top:280.15px;font-size:14px;color:#d4d4d4;transform:scaleX(0.950);">I</div>
<div class="r" style="left:931.5px;top:281px;width:1px;height:14.2px;background:#4a4a4a;"></div>
<div class="t" style="left:877.67px;top:280.15px;font-size:14px;color:#d4d4d4;transform:scaleX(0.950);">J</div>
<div class="r" style="left:943.5px;top:281px;width:1px;height:14.2px;background:#4a4a4a;"></div>
<div class="r" style="left:932px;top:279px;width:11.5px;height:16px;overflow:hidden;"><div class="t" style="left:1.25px;top:1.15px;font-size:14px;color:#d4d4d4;transform:scaleX(0.95);">K</div></div>
<div class="r" style="left:1113.9px;top:281px;width:1px;height:14.2px;background:#4a4a4a;"></div>
<div class="t" style="left:1025.5px;top:280.15px;font-size:14px;color:#d4d4d4;transform:scaleX(0.950);">L</div>
<div class="r" style="left:1212px;top:281px;width:1px;height:14.2px;background:#4a4a4a;"></div>
<div class="t" style="left:1157.91px;top:280.15px;font-size:14px;color:#d4d4d4;transform:scaleX(0.950);">M</div>
<div class="r" style="left:1316.8px;top:281px;width:1px;height:14.2px;background:#4a4a4a;"></div>
<div class="t" style="left:1260.1px;top:280.15px;font-size:14px;color:#d4d4d4;transform:scaleX(0.950);">N</div>
<div class="r" style="left:1394.8px;top:281px;width:1px;height:14.2px;background:#4a4a4a;"></div>
<div class="t" style="left:1351.13px;top:280.15px;font-size:14px;color:#d4d4d4;transform:scaleX(0.950);">O</div>
<div class="r" style="left:1472.7px;top:281px;width:1px;height:14.2px;background:#4a4a4a;"></div>
<div class="t" style="left:1429.81px;top:280.15px;font-size:14px;color:#d4d4d4;transform:scaleX(0.950);">P</div>
<div class="r" style="left:1553.9px;top:281px;width:1px;height:14.2px;background:#4a4a4a;"></div>
<div class="t" style="left:1508.63px;top:280.15px;font-size:14px;color:#d4d4d4;transform:scaleX(0.950);">Q</div>
<div class="r" style="left:1634.5px;top:281px;width:1px;height:14.2px;background:#4a4a4a;"></div>
<div class="t" style="left:1589.9px;top:280.15px;font-size:14px;color:#d4d4d4;transform:scaleX(0.950);">R</div>
<div class="r" style="left:1689.5px;top:281px;width:1px;height:14.2px;background:#4a4a4a;"></div>
<div class="t" style="left:1658.06px;top:280.15px;font-size:14px;color:#d4d4d4;transform:scaleX(0.950);">S</div>
<div class="r" style="left:1745.1px;top:281px;width:1px;height:14.2px;background:#4a4a4a;"></div>
<div class="t" style="left:1713.74px;top:280.15px;font-size:14px;color:#d4d4d4;transform:scaleX(0.950);">T</div>
<div class="r" style="left:1823.9px;top:281px;width:1px;height:14.2px;background:#4a4a4a;"></div>
<div class="t" style="left:1780.2px;top:280.15px;font-size:14px;color:#d4d4d4;transform:scaleX(0.950);">U</div>
<div class="r" style="left:1901.8px;top:281px;width:1px;height:14.2px;background:#4a4a4a;"></div>
<div class="t" style="left:1858.91px;top:280.15px;font-size:14px;color:#d4d4d4;transform:scaleX(0.950);">V</div>
<div class="r" style="left:1914.5px;top:281px;width:1px;height:14.2px;background:#4a4a4a;"></div>
<div class="r" style="left:1902.3px;top:279px;width:12.2px;height:16px;overflow:hidden;"><div class="t" style="left:1.6px;top:1.15px;font-size:14px;color:#d4d4d4;transform:scaleX(0.95);">W</div></div>
<div class="r" style="left:2063px;top:281px;width:1px;height:14.2px;background:#4a4a4a;"></div>
<div class="t" style="left:1984.81px;top:280.15px;font-size:14px;color:#d4d4d4;transform:scaleX(0.950);">X</div>
<div class="r" style="left:2211.8px;top:281px;width:1px;height:14.2px;background:#4a4a4a;"></div>
<div class="t" style="left:2133.46px;top:280.15px;font-size:14px;color:#d4d4d4;transform:scaleX(0.950);">Y</div>
<div class="r" style="left:2346.8px;top:281px;width:1px;height:14.2px;background:#4a4a4a;"></div>
<div class="t" style="left:2275.74px;top:280.15px;font-size:14px;color:#d4d4d4;transform:scaleX(0.950);">Z</div>
<div class="r" style="left:2357px;top:281px;width:1px;height:14.2px;background:#4a4a4a;"></div>
<div class="r" style="left:2347.3px;top:279px;width:9.7px;height:16px;overflow:hidden;"><div class="t" style="left:0.5px;top:1.15px;font-size:14px;color:#d4d4d4;transform:scaleX(0.95);">AA</div></div>
<div class="r" style="left:2525.8px;top:281px;width:1px;height:14.2px;background:#4a4a4a;"></div>
<div class="t" style="left:2433.03px;top:280.15px;font-size:14px;color:#d4d4d4;transform:scaleX(0.950);">AB</div>
<div class="r" style="left:2694.5px;top:281px;width:1px;height:14.2px;background:#4a4a4a;"></div>
<div class="t" style="left:2601.41px;top:280.15px;font-size:14px;color:#d4d4d4;transform:scaleX(0.950);">AC</div>
<div class="r" style="left:2843.8px;top:281px;width:1px;height:14.2px;background:#4a4a4a;"></div>
<div class="t" style="left:2760.41px;top:280.15px;font-size:14px;color:#d4d4d4;transform:scaleX(0.950);">AD</div>
<div class="r" style="left:2860.5px;top:281px;width:1px;height:14.2px;background:#4a4a4a;"></div>
<div class="t" style="left:2853.7px;top:280.15px;font-size:14px;color:#d4d4d4;transform:scaleX(0.950);">A</div>
<div class="r" style="left:38.7px;top:281px;width:1px;height:14.2px;background:#4a4a4a;"></div>
<div class="r" style="left:11px;top:295.8px;width:28px;height:1374px;background:#0a0a0a;"></div>
<div class="r" style="left:11.3px;top:296px;width:27.7px;height:34.4px;background:#6e6e6e;"></div>
<div class="r" style="left:11.3px;top:296px;width:27.7px;height:1px;background:#a0a0a0;"></div>
<div class="r" style="left:11.3px;top:329.4px;width:27.7px;height:1px;background:#a0a0a0;"></div>
<div class="t" style="left:21.22px;top:316.15px;font-size:14px;color:#e4e4e4;transform:scaleX(0.970);">1</div>
<div class="r" style="left:11.3px;top:352px;width:27.7px;height:1px;background:#4a4a4a;"></div>
<div class="t" style="left:21.22px;top:338.75px;font-size:14px;color:#e4e4e4;transform:scaleX(0.970);">2</div>
<div class="r" style="left:11.3px;top:379.6px;width:27.7px;height:1px;background:#4a4a4a;"></div>
<div class="t" style="left:21.22px;top:366.35px;font-size:14px;color:#e4e4e4;transform:scaleX(0.970);">3</div>
<div class="r" style="left:11.3px;top:405.4px;width:27.7px;height:1px;background:#4a4a4a;"></div>
<div class="t" style="left:21.22px;top:392.15px;font-size:14px;color:#e4e4e4;transform:scaleX(0.970);">4</div>
<div class="r" style="left:11.3px;top:431.5px;width:27.7px;height:1px;background:#4a4a4a;"></div>
<div class="t" style="left:21.22px;top:418.25px;font-size:14px;color:#e4e4e4;transform:scaleX(0.970);">5</div>
<div class="r" style="left:11.3px;top:457.6px;width:27.7px;height:1px;background:#4a4a4a;"></div>
<div class="t" style="left:21.22px;top:444.35px;font-size:14px;color:#e4e4e4;transform:scaleX(0.970);">6</div>
<div class="r" style="left:11.3px;top:483.3px;width:27.7px;height:1px;background:#4a4a4a;"></div>
<div class="t" style="left:21.22px;top:470.05px;font-size:14px;color:#e4e4e4;transform:scaleX(0.970);">7</div>
<div class="r" style="left:11.3px;top:509px;width:27.7px;height:1px;background:#4a4a4a;"></div>
<div class="t" style="left:21.22px;top:495.75px;font-size:14px;color:#e4e4e4;transform:scaleX(0.970);">8</div>
<div class="r" style="left:11.3px;top:518.5px;width:27.7px;height:1px;background:#4a4a4a;"></div>
<div class="r" style="left:11.3px;top:510px;width:27.9px;height:8.5px;overflow:hidden;"><div class="t" style="left:9.92px;top:-5.55px;font-size:14px;color:#e4e4e4;transform:scaleX(0.97);">9</div></div>
<div class="r" style="left:11.3px;top:545px;width:27.7px;height:1px;background:#4a4a4a;"></div>
<div class="t" style="left:17.45px;top:531.75px;font-size:14px;color:#e4e4e4;transform:scaleX(0.970);">10</div>
<div class="r" style="left:11.3px;top:553px;width:27.7px;height:1px;background:#4a4a4a;"></div>
<div class="r" style="left:11.3px;top:546px;width:27.9px;height:7px;overflow:hidden;"><div class="t" style="left:6.65px;top:-7.05px;font-size:14px;color:#e4e4e4;transform:scaleX(0.97);">11</div></div>
<div class="r" style="left:11.3px;top:574.2px;width:27.7px;height:1px;background:#4a4a4a;"></div>
<div class="t" style="left:17.45px;top:560.95px;font-size:14px;color:#e4e4e4;transform:scaleX(0.970);">12</div>
<div class="r" style="left:11.3px;top:583.8px;width:27.7px;height:1px;background:#4a4a4a;"></div>
<div class="r" style="left:11.3px;top:575.2px;width:27.9px;height:8.6px;overflow:hidden;"><div class="t" style="left:6.15px;top:-5.45px;font-size:14px;color:#e4e4e4;transform:scaleX(0.97);">13</div></div>
<div class="r" style="left:11.3px;top:600.6px;width:27.7px;height:1px;background:#4a4a4a;"></div>
<div class="t" style="left:17.45px;top:587.35px;font-size:14px;color:#e4e4e4;transform:scaleX(0.970);">14</div>
<div class="r" style="left:11.3px;top:617.7px;width:27.7px;height:1px;background:#4a4a4a;"></div>
<div class="t" style="left:17.45px;top:604.45px;font-size:14px;color:#e4e4e4;transform:scaleX(0.970);">15</div>
<div class="r" style="left:11.3px;top:634.8px;width:27.7px;height:1px;background:#4a4a4a;"></div>
<div class="t" style="left:17.45px;top:621.55px;font-size:14px;color:#e4e4e4;transform:scaleX(0.970);">16</div>
<div class="r" style="left:11.3px;top:652px;width:27.7px;height:1px;background:#4a4a4a;"></div>
<div class="t" style="left:17.45px;top:638.75px;font-size:14px;color:#e4e4e4;transform:scaleX(0.970);">17</div>
<div class="r" style="left:11.3px;top:668.7px;width:27.7px;height:1px;background:#4a4a4a;"></div>
<div class="t" style="left:17.45px;top:655.45px;font-size:14px;color:#e4e4e4;transform:scaleX(0.970);">18</div>
<div class="r" style="left:11.3px;top:677px;width:27.7px;height:1px;background:#4a4a4a;"></div>
<div class="r" style="left:11.3px;top:669.7px;width:27.9px;height:7.3px;overflow:hidden;"><div class="t" style="left:6.15px;top:-6.75px;font-size:14px;color:#e4e4e4;transform:scaleX(0.97);">19</div></div>
<div class="r" style="left:11.3px;top:704.4px;width:27.7px;height:1px;background:#4a4a4a;"></div>
<div class="t" style="left:17.45px;top:691.15px;font-size:14px;color:#e4e4e4;transform:scaleX(0.970);">20</div>
<div class="r" style="left:11.3px;top:711.3px;width:27.7px;height:1px;background:#4a4a4a;"></div>
<div class="r" style="left:11.3px;top:705.4px;width:27.9px;height:5.9px;overflow:hidden;"><div class="t" style="left:6.15px;top:-8.15px;font-size:14px;color:#e4e4e4;transform:scaleX(0.97);">21</div></div>
<div class="r" style="left:11.3px;top:731.5px;width:27.7px;height:1px;background:#4a4a4a;"></div>
<div class="t" style="left:17.45px;top:718.25px;font-size:14px;color:#e4e4e4;transform:scaleX(0.970);">22</div>
<div class="r" style="left:11.3px;top:743px;width:27.7px;height:1px;background:#4a4a4a;"></div>
<div class="r" style="left:11.3px;top:732.5px;width:27.9px;height:10.5px;overflow:hidden;"><div class="t" style="left:6.15px;top:-3.55px;font-size:14px;color:#e4e4e4;transform:scaleX(0.97);">23</div></div>
<div class="r" style="left:11.3px;top:761px;width:27.7px;height:1px;background:#4a4a4a;"></div>
<div class="t" style="left:17.45px;top:747.75px;font-size:14px;color:#e4e4e4;transform:scaleX(0.970);">24</div>
<div class="r" style="left:11.3px;top:777.8px;width:27.7px;height:1px;background:#4a4a4a;"></div>
<div class="t" style="left:17.45px;top:764.55px;font-size:14px;color:#e4e4e4;transform:scaleX(0.970);">25</div>
<div class="r" style="left:11.3px;top:797px;width:27.7px;height:1px;background:#4a4a4a;"></div>
<div class="t" style="left:17.45px;top:783.75px;font-size:14px;color:#e4e4e4;transform:scaleX(0.970);">26</div>
<div class="r" style="left:11.3px;top:814.8px;width:27.7px;height:1px;background:#4a4a4a;"></div>
<div class="t" style="left:17.45px;top:801.55px;font-size:14px;color:#e4e4e4;transform:scaleX(0.970);">27</div>
<div class="r" style="left:11.3px;top:832px;width:27.7px;height:1px;background:#4a4a4a;"></div>
<div class="t" style="left:17.45px;top:818.75px;font-size:14px;color:#e4e4e4;transform:scaleX(0.970);">28</div>
<div class="r" style="left:11.3px;top:850.7px;width:27.7px;height:1px;background:#4a4a4a;"></div>
<div class="t" style="left:17.45px;top:837.45px;font-size:14px;color:#e4e4e4;transform:scaleX(0.970);">29</div>
<div class="r" style="left:11.3px;top:868.6px;width:27.7px;height:1px;background:#4a4a4a;"></div>
<div class="t" style="left:17.45px;top:855.35px;font-size:14px;color:#e4e4e4;transform:scaleX(0.970);">30</div>
<div class="r" style="left:11.3px;top:885.8px;width:27.7px;height:1px;background:#4a4a4a;"></div>
<div class="t" style="left:17.45px;top:872.55px;font-size:14px;color:#e4e4e4;transform:scaleX(0.970);">31</div>
<div class="r" style="left:11.3px;top:902.9px;width:27.7px;height:1px;background:#4a4a4a;"></div>
<div class="t" style="left:17.45px;top:889.65px;font-size:14px;color:#e4e4e4;transform:scaleX(0.970);">32</div>
<div class="r" style="left:11.3px;top:922px;width:27.7px;height:1px;background:#4a4a4a;"></div>
<div class="t" style="left:17.45px;top:908.75px;font-size:14px;color:#e4e4e4;transform:scaleX(0.970);">33</div>
<div class="r" style="left:11.3px;top:939.5px;width:27.7px;height:1px;background:#4a4a4a;"></div>
<div class="t" style="left:17.45px;top:926.25px;font-size:14px;color:#e4e4e4;transform:scaleX(0.970);">34</div>
<div class="r" style="left:11.3px;top:948.2px;width:27.7px;height:1px;background:#4a4a4a;"></div>
<div class="r" style="left:11.3px;top:940.5px;width:27.9px;height:7.7px;overflow:hidden;"><div class="t" style="left:6.15px;top:-6.35px;font-size:14px;color:#e4e4e4;transform:scaleX(0.97);">35</div></div>
<div class="r" style="left:11.3px;top:974.6px;width:27.7px;height:1px;background:#4a4a4a;"></div>
<div class="t" style="left:17.45px;top:961.35px;font-size:14px;color:#e4e4e4;transform:scaleX(0.970);">36</div>
<div class="r" style="left:11.3px;top:980.3px;width:27.7px;height:1px;background:#4a4a4a;"></div>
<div class="r" style="left:11.3px;top:975.6px;width:27.9px;height:4.7px;overflow:hidden;"><div class="t" style="left:6.15px;top:-9.35px;font-size:14px;color:#e4e4e4;transform:scaleX(0.97);">37</div></div>
<div class="r" style="left:11.3px;top:999.2px;width:27.7px;height:1px;background:#4a4a4a;"></div>
<div class="t" style="left:17.45px;top:985.95px;font-size:14px;color:#e4e4e4;transform:scaleX(0.970);">38</div>
<div class="r" style="left:11.3px;top:1008.3px;width:27.7px;height:1px;background:#4a4a4a;"></div>
<div class="r" style="left:11.3px;top:1000.2px;width:27.9px;height:8.1px;overflow:hidden;"><div class="t" style="left:6.15px;top:-5.95px;font-size:14px;color:#e4e4e4;transform:scaleX(0.97);">39</div></div>
<div class="r" style="left:11.3px;top:1026.3px;width:27.7px;height:1px;background:#4a4a4a;"></div>
<div class="t" style="left:17.45px;top:1013.05px;font-size:14px;color:#e4e4e4;transform:scaleX(0.970);">40</div>
<div class="r" style="left:11.3px;top:1044.2px;width:27.7px;height:1px;background:#4a4a4a;"></div>
<div class="t" style="left:17.45px;top:1030.95px;font-size:14px;color:#e4e4e4;transform:scaleX(0.970);">41</div>
<div class="r" style="left:11.3px;top:1062.23px;width:27.7px;height:1px;background:#4a4a4a;"></div>
<div class="t" style="left:17.45px;top:1048.98px;font-size:14px;color:#e4e4e4;transform:scaleX(0.970);">42</div>
<div class="r" style="left:11.3px;top:1080.26px;width:27.7px;height:1px;background:#4a4a4a;"></div>
<div class="t" style="left:17.45px;top:1067.01px;font-size:14px;color:#e4e4e4;transform:scaleX(0.970);">43</div>
<div class="r" style="left:11.3px;top:1098.29px;width:27.7px;height:1px;background:#4a4a4a;"></div>
<div class="t" style="left:17.45px;top:1085.04px;font-size:14px;color:#e4e4e4;transform:scaleX(0.970);">44</div>
<div class="r" style="left:11.3px;top:1116.32px;width:27.7px;height:1px;background:#4a4a4a;"></div>
<div class="t" style="left:17.45px;top:1103.07px;font-size:14px;color:#e4e4e4;transform:scaleX(0.970);">45</div>
<div class="r" style="left:11.3px;top:1134.35px;width:27.7px;height:1px;background:#4a4a4a;"></div>
<div class="t" style="left:17.45px;top:1121.1px;font-size:14px;color:#e4e4e4;transform:scaleX(0.970);">46</div>
<div class="r" style="left:11.3px;top:1152.38px;width:27.7px;height:1px;background:#4a4a4a;"></div>
<div class="t" style="left:17.45px;top:1139.13px;font-size:14px;color:#e4e4e4;transform:scaleX(0.970);">47</div>
<div class="r" style="left:11.3px;top:1170.41px;width:27.7px;height:1px;background:#4a4a4a;"></div>
<div class="t" style="left:17.45px;top:1157.16px;font-size:14px;color:#e4e4e4;transform:scaleX(0.970);">48</div>
<div class="r" style="left:11.3px;top:1188.44px;width:27.7px;height:1px;background:#4a4a4a;"></div>
<div class="t" style="left:17.45px;top:1175.19px;font-size:14px;color:#e4e4e4;transform:scaleX(0.970);">49</div>
<div class="r" style="left:11.3px;top:1206.47px;width:27.7px;height:1px;background:#4a4a4a;"></div>
<div class="t" style="left:17.45px;top:1193.22px;font-size:14px;color:#e4e4e4;transform:scaleX(0.970);">50</div>
<div class="r" style="left:11.3px;top:1224.5px;width:27.7px;height:1px;background:#4a4a4a;"></div>
<div class="t" style="left:17.45px;top:1211.25px;font-size:14px;color:#e4e4e4;transform:scaleX(0.970);">51</div>
<div class="r" style="left:11.3px;top:1242.53px;width:27.7px;height:1px;background:#4a4a4a;"></div>
<div class="t" style="left:17.45px;top:1229.28px;font-size:14px;color:#e4e4e4;transform:scaleX(0.970);">52</div>
<div class="r" style="left:11.3px;top:1260.56px;width:27.7px;height:1px;background:#4a4a4a;"></div>
<div class="t" style="left:17.45px;top:1247.31px;font-size:14px;color:#e4e4e4;transform:scaleX(0.970);">53</div>
<div class="r" style="left:11.3px;top:1278.59px;width:27.7px;height:1px;background:#4a4a4a;"></div>
<div class="t" style="left:17.45px;top:1265.34px;font-size:14px;color:#e4e4e4;transform:scaleX(0.970);">54</div>
<div class="r" style="left:11.3px;top:1296.62px;width:27.7px;height:1px;background:#4a4a4a;"></div>
<div class="t" style="left:17.45px;top:1283.37px;font-size:14px;color:#e4e4e4;transform:scaleX(0.970);">55</div>
<div class="r" style="left:11.3px;top:1314.65px;width:27.7px;height:1px;background:#4a4a4a;"></div>
<div class="t" style="left:17.45px;top:1301.4px;font-size:14px;color:#e4e4e4;transform:scaleX(0.970);">56</div>
<div class="r" style="left:11.3px;top:1332.68px;width:27.7px;height:1px;background:#4a4a4a;"></div>
<div class="t" style="left:17.45px;top:1319.43px;font-size:14px;color:#e4e4e4;transform:scaleX(0.970);">57</div>
<div class="r" style="left:11.3px;top:1350.71px;width:27.7px;height:1px;background:#4a4a4a;"></div>
<div class="t" style="left:17.45px;top:1337.46px;font-size:14px;color:#e4e4e4;transform:scaleX(0.970);">58</div>
<div class="r" style="left:11.3px;top:1368.74px;width:27.7px;height:1px;background:#4a4a4a;"></div>
<div class="t" style="left:17.45px;top:1355.49px;font-size:14px;color:#e4e4e4;transform:scaleX(0.970);">59</div>
<div class="r" style="left:11.3px;top:1386.77px;width:27.7px;height:1px;background:#4a4a4a;"></div>
<div class="t" style="left:17.45px;top:1373.52px;font-size:14px;color:#e4e4e4;transform:scaleX(0.970);">60</div>
<div class="r" style="left:11.3px;top:1390.4px;width:27.7px;height:1px;background:#4a4a4a;"></div>
<div class="r" style="left:11.3px;top:1387.77px;width:27.9px;height:2.63px;overflow:hidden;"><div class="t" style="left:6.15px;top:-11.42px;font-size:14px;color:#e4e4e4;transform:scaleX(0.97);">61</div></div>
<div class="r" style="left:11.3px;top:1394.3px;width:27.7px;height:1px;background:#4a4a4a;"></div>
<div class="r" style="left:11.3px;top:1391.4px;width:27.9px;height:2.9px;overflow:hidden;"><div class="t" style="left:6.15px;top:-11.15px;font-size:14px;color:#e4e4e4;transform:scaleX(0.97);">62</div></div>
<div class="r" style="left:11.3px;top:1409px;width:27.7px;height:1px;background:#4a4a4a;"></div>
<div class="t" style="left:17.45px;top:1395.75px;font-size:14px;color:#e4e4e4;transform:scaleX(0.970);">63</div>
<div class="r" style="left:11.3px;top:1426.05px;width:27.7px;height:1px;background:#4a4a4a;"></div>
<div class="t" style="left:17.45px;top:1412.8px;font-size:14px;color:#e4e4e4;transform:scaleX(0.970);">64</div>
<div class="r" style="left:11.3px;top:1443.1px;width:27.7px;height:1px;background:#4a4a4a;"></div>
<div class="t" style="left:17.45px;top:1429.85px;font-size:14px;color:#e4e4e4;transform:scaleX(0.970);">65</div>
<div class="r" style="left:11.3px;top:1460.15px;width:27.7px;height:1px;background:#4a4a4a;"></div>
<div class="t" style="left:17.45px;top:1446.9px;font-size:14px;color:#e4e4e4;transform:scaleX(0.970);">66</div>
<div class="r" style="left:11.3px;top:1477.2px;width:27.7px;height:1px;background:#4a4a4a;"></div>
<div class="t" style="left:17.45px;top:1463.95px;font-size:14px;color:#e4e4e4;transform:scaleX(0.970);">67</div>
<div class="r" style="left:11.3px;top:1494.25px;width:27.7px;height:1px;background:#4a4a4a;"></div>
<div class="t" style="left:17.45px;top:1481px;font-size:14px;color:#e4e4e4;transform:scaleX(0.970);">68</div>
<div class="r" style="left:11.3px;top:1511.3px;width:27.7px;height:1px;background:#4a4a4a;"></div>
<div class="t" style="left:17.45px;top:1498.05px;font-size:14px;color:#e4e4e4;transform:scaleX(0.970);">69</div>
<div class="r" style="left:11.3px;top:1528.35px;width:27.7px;height:1px;background:#4a4a4a;"></div>
<div class="t" style="left:17.45px;top:1515.1px;font-size:14px;color:#e4e4e4;transform:scaleX(0.970);">70</div>
<div class="r" style="left:11.3px;top:1545.4px;width:27.7px;height:1px;background:#4a4a4a;"></div>
<div class="t" style="left:17.45px;top:1532.15px;font-size:14px;color:#e4e4e4;transform:scaleX(0.970);">71</div>
<div class="r" style="left:11.3px;top:1562.45px;width:27.7px;height:1px;background:#4a4a4a;"></div>
<div class="t" style="left:17.45px;top:1549.2px;font-size:14px;color:#e4e4e4;transform:scaleX(0.970);">72</div>
<div class="r" style="left:11.3px;top:1579.5px;width:27.7px;height:1px;background:#4a4a4a;"></div>
<div class="t" style="left:17.45px;top:1566.25px;font-size:14px;color:#e4e4e4;transform:scaleX(0.970);">73</div>
<div class="r" style="left:11.3px;top:1596.55px;width:27.7px;height:1px;background:#4a4a4a;"></div>
<div class="t" style="left:17.45px;top:1583.3px;font-size:14px;color:#e4e4e4;transform:scaleX(0.970);">74</div>
<div class="r" style="left:11.3px;top:1613.6px;width:27.7px;height:1px;background:#4a4a4a;"></div>
<div class="t" style="left:17.45px;top:1600.35px;font-size:14px;color:#e4e4e4;transform:scaleX(0.970);">75</div>
<div class="r" style="left:11.3px;top:1630.65px;width:27.7px;height:1px;background:#4a4a4a;"></div>
<div class="t" style="left:17.45px;top:1617.4px;font-size:14px;color:#e4e4e4;transform:scaleX(0.970);">76</div>
<div class="r" style="left:11.3px;top:1647.7px;width:27.7px;height:1px;background:#4a4a4a;"></div>
<div class="t" style="left:17.45px;top:1634.45px;font-size:14px;color:#e4e4e4;transform:scaleX(0.970);">77</div>
<div class="r" style="left:11.3px;top:1664.75px;width:27.7px;height:1px;background:#4a4a4a;"></div>
<div class="t" style="left:17.45px;top:1651.5px;font-size:14px;color:#e4e4e4;transform:scaleX(0.970);">78</div>
<div class="r" style="left:11.3px;top:1668.8px;width:27.7px;height:1px;background:#4a4a4a;"></div>
<div class="r" style="left:11.3px;top:1665.75px;width:27.9px;height:5.25px;overflow:hidden;"><div class="t" style="left:6.15px;top:-8.8px;font-size:14px;color:#e4e4e4;transform:scaleX(0.97);">79</div></div>
<div class="r" style="left:39px;top:295.8px;width:2822px;height:1374px;background:#fff;"></div>
<div class="r" style="left:38.4px;top:295.2px;width:1.6px;height:35.2px;background:#1e7a46;"></div>
<div class="t b" style="left:56.4px;top:302.93px;font-size:23px;color:#111;transform:scaleX(1.051);">Dashboard</div>
<div class="t b" style="left:55.4px;top:334.8px;font-size:15px;color:#2b6de0;transform:scaleX(0.976);">Go to Table of Contents</div>
<div class="r" style="left:55.4px;top:348.8px;width:164.8px;height:1.5px;background:#2b6de0;"></div>
<div class="r" style="left:64.9px;top:355px;width:457.9px;height:24.8px;background:#4c50d2;"></div>
<div class="t b" style="left:225.9px;top:358.91px;font-size:17px;color:#fff;transform:scaleX(0.942);">GENERAL SETUP</div>
<div class="r" style="left:64.9px;top:381px;width:242.9px;height:27.4px;background:#d5d8e6;"></div>
<div class="r" style="left:310.8px;top:381px;width:212px;height:25.4px;background:#fff066;"></div>
<div class="t" style="left:204.95px;top:387.37px;font-size:13.5px;color:#1a1a1a;transform:scaleX(0.995);">Company Name</div>
<div class="t" style="left:359.79px;top:386.57px;font-size:13.5px;color:#1a1a1a;transform:scaleX(0.995);">ABC Company Inc.</div>
<div class="r" style="left:64.9px;top:407.4px;width:242.9px;height:27.4px;background:#d5d8e6;"></div>
<div class="r" style="left:310.8px;top:407.4px;width:212px;height:25.4px;background:#fff066;"></div>
<div class="t" style="left:201.17px;top:413.57px;font-size:13.5px;color:#1a1a1a;transform:scaleX(0.995);">Select Language</div>
<div class="t" style="left:408.18px;top:412.77px;font-size:13.5px;color:#1a1a1a;transform:scaleX(0.930);">EN</div>
<div class="r" style="left:64.9px;top:433.6px;width:242.9px;height:27.1px;background:#d5d8e6;"></div>
<div class="r" style="left:310.8px;top:433.6px;width:212px;height:25.1px;background:#fff066;"></div>
<div class="t" style="left:206.45px;top:439.47px;font-size:13.5px;color:#1a1a1a;transform:scaleX(0.995);">First Fiscal Year</div>
<div class="t" style="left:400.83px;top:438.67px;font-size:13.5px;color:#1a1a1a;transform:scaleX(1.070);">2026</div>
<div class="r" style="left:64.9px;top:459.5px;width:242.9px;height:26.9px;background:#d5d8e6;"></div>
<div class="r" style="left:310.8px;top:459.5px;width:212px;height:24.9px;background:#fff066;"></div>
<div class="t" style="left:208.66px;top:465.37px;font-size:13.5px;color:#1a1a1a;transform:scaleX(0.995);">Fiscal Year End</div>
<div class="t" style="left:385.92px;top:464.57px;font-size:13.5px;color:#1a1a1a;transform:scaleX(0.995);">December</div>
<div class="r" style="left:64.9px;top:485.4px;width:242.9px;height:23.2px;background:#d5d8e6;"></div>
<div class="r" style="left:310.8px;top:485.4px;width:212px;height:23.2px;background:#fff066;"></div>
<div class="t" style="left:207.92px;top:491.57px;font-size:13.5px;color:#1a1a1a;transform:scaleX(0.995);">Select Scenario</div>
<div class="t" style="left:401.59px;top:490.77px;font-size:13.5px;color:#1a1a1a;transform:scaleX(0.995);">Base</div>
<div class="r" style="left:526.2px;top:355px;width:404.6px;height:24.8px;background:#4c50d2;"></div>
<div class="t b" style="left:586.7px;top:358.91px;font-size:17px;color:#fff;transform:scaleX(0.994);">CURRENCY, DENOMINATOR &amp; TAX</div>
<div class="r" style="left:526.2px;top:381px;width:200.3px;height:27.4px;background:#d5d8e6;"></div>
<div class="r" style="left:730px;top:381px;width:200.8px;height:25.4px;background:#fff066;"></div>
<div class="t" style="left:626.18px;top:387.37px;font-size:13.5px;color:#1a1a1a;transform:scaleX(0.995);">Currency Inputs</div>
<div class="t" style="left:826.38px;top:386.57px;font-size:13.5px;color:#1a1a1a;transform:scaleX(1.070);">$</div>
<div class="r" style="left:526.2px;top:407.4px;width:200.3px;height:27.4px;background:#d5d8e6;"></div>
<div class="r" style="left:730px;top:407.4px;width:200.8px;height:25.4px;background:#fff066;"></div>
<div class="t" style="left:615.74px;top:413.57px;font-size:13.5px;color:#1a1a1a;transform:scaleX(0.995);">Currency Outputs</div>
<div class="t" style="left:826.38px;top:412.77px;font-size:13.5px;color:#1a1a1a;transform:scaleX(1.070);">$</div>
<div class="r" style="left:526.2px;top:433.6px;width:200.3px;height:27.1px;background:#d5d8e6;"></div>
<div class="r" style="left:730px;top:433.6px;width:200.8px;height:25.1px;background:#fff066;"></div>
<div class="t" style="left:600.77px;top:439.47px;font-size:13.5px;color:#1a1a1a;transform:scaleX(0.995);">Exchange rate, $ / $</div>
<div class="t" style="left:812.33px;top:438.67px;font-size:13.5px;color:#1a1a1a;transform:scaleX(1.070);">1.000</div>
<div class="r" style="left:526.2px;top:459.5px;width:200.3px;height:26.9px;background:#d5d8e6;"></div>
<div class="r" style="left:730px;top:459.5px;width:200.8px;height:24.9px;background:#fff066;"></div>
<div class="t" style="left:587.35px;top:465.37px;font-size:13.5px;color:#1a1a1a;transform:scaleX(0.995);">Reports Denomination</div>
<div class="t" style="left:812.33px;top:464.57px;font-size:13.5px;color:#1a1a1a;transform:scaleX(1.070);">1,000</div>
<div class="r" style="left:526.2px;top:485.4px;width:200.3px;height:23.2px;background:#d5d8e6;"></div>
<div class="r" style="left:730px;top:485.4px;width:200.8px;height:23.2px;background:#fff066;"></div>
<div class="t" style="left:620.21px;top:491.57px;font-size:13.5px;color:#1a1a1a;transform:scaleX(0.995);">Corporate tax, %</div>
<div class="t" style="left:815.94px;top:490.77px;font-size:13.5px;color:#1a1a1a;transform:scaleX(1.070);">25%</div>
<div class="r" style="left:944.9px;top:355px;width:957px;height:24.8px;background:#4c50d2;"></div>
<div class="t b" style="left:1333.2px;top:358.91px;font-size:17px;color:#fff;transform:scaleX(0.968);">DEBTS ASSUMPTIONS</div>
<div class="r" style="left:944px;top:381.4px;width:169.6px;height:23.3px;background:#6b73e8;"></div>
<div class="t b" style="left:988.55px;top:386.73px;font-size:14.5px;color:#fff;transform:scaleX(1.030);">Loan Name</div>
<div class="r" style="left:1115.2px;top:381.4px;width:96.4px;height:23.3px;background:#6b73e8;"></div>
<div class="t b" style="left:1126.89px;top:386.73px;font-size:14.5px;color:#fff;transform:scaleX(1.030);">Amount, $</div>
<div class="r" style="left:1213.3px;top:381.4px;width:103.2px;height:23.3px;background:#6b73e8;"></div>
<div class="t b" style="left:1238.35px;top:386.73px;font-size:14.5px;color:#fff;transform:scaleX(1.030);">Launch</div>
<div class="r" style="left:1318.1px;top:381.4px;width:154.3px;height:23.3px;background:#6b73e8;"></div>
<div class="t b" style="left:1331.5px;top:385.93px;font-size:14.5px;color:#fff;transform:scaleX(1.030);">Full Term, Months</div>
<div class="r" style="left:1474px;top:381.4px;width:160.3px;height:23.3px;background:#6b73e8;"></div>
<div class="t b" style="left:1498.27px;top:385.93px;font-size:14.5px;color:#fff;transform:scaleX(1.030);">Interest-Only, M</div>
<div class="r" style="left:1635.9px;top:381.4px;width:108.9px;height:23.3px;background:#6b73e8;"></div>
<div class="t b" style="left:1652.59px;top:385.93px;font-size:14.5px;color:#fff;transform:scaleX(1.030);">Interest, %</div>
<div class="r" style="left:1746.4px;top:381.4px;width:156.3px;height:23.3px;background:#6b73e8;"></div>
<div class="t b" style="left:1783.6px;top:385.93px;font-size:14.5px;color:#fff;transform:scaleX(1.030);">Select Type</div>
<div class="r" style="left:944.8px;top:407.8px;width:168px;height:25.2px;background:#fff066;"></div>
<div class="t" style="left:945.8px;top:413.57px;font-size:13.5px;color:#1a1a1a;transform:scaleX(0.995);">Loan_1</div>
<div class="r" style="left:1116px;top:407.8px;width:94.8px;height:25.2px;background:#fff066;"></div>
<div class="t" style="left:1152.58px;top:413.57px;font-size:13.5px;color:#1a1a1a;transform:scaleX(1.070);">200,000</div>
<div class="r" style="left:1214.1px;top:407.8px;width:101.6px;height:25.2px;background:#fff066;"></div>
<div class="t" style="left:1244.36px;top:413.17px;font-size:13.5px;color:#1a1a1a;transform:scaleX(0.995);">Jan-26</div>
<div class="r" style="left:1318.9px;top:407.8px;width:152.7px;height:25.2px;background:#fff066;"></div>
<div class="t" style="left:1387.22px;top:413.17px;font-size:13.5px;color:#1a1a1a;transform:scaleX(1.070);">90</div>
<div class="r" style="left:1474.8px;top:407.8px;width:158.7px;height:25.2px;background:#fff066;"></div>
<div class="t" style="left:1546.12px;top:413.17px;font-size:13.5px;color:#1a1a1a;transform:scaleX(1.070);">12</div>
<div class="r" style="left:1636.7px;top:407.8px;width:107.3px;height:25.2px;background:#fff066;"></div>
<div class="t" style="left:1673.89px;top:413.17px;font-size:13.5px;color:#1a1a1a;transform:scaleX(1.070);">6.0%</div>
<div class="r" style="left:1747.2px;top:407.8px;width:154.7px;height:25.2px;background:#fff066;"></div>
<div class="t" style="left:1802.52px;top:413.17px;font-size:13.5px;color:#1a1a1a;transform:scaleX(0.978);">Annuity</div>
<div class="r" style="left:944.8px;top:434px;width:168px;height:24.9px;background:#fff066;"></div>
<div class="t" style="left:945.8px;top:439.47px;font-size:13.5px;color:#1a1a1a;transform:scaleX(0.995);">Loan_2</div>
<div class="r" style="left:1116px;top:434px;width:94.8px;height:24.9px;background:#fff066;"></div>
<div class="t" style="left:1152.58px;top:439.47px;font-size:13.5px;color:#1a1a1a;transform:scaleX(1.070);">100,000</div>
<div class="r" style="left:1214.1px;top:434px;width:101.6px;height:24.9px;background:#fff066;"></div>
<div class="t" style="left:1243.63px;top:439.07px;font-size:13.5px;color:#1a1a1a;transform:scaleX(0.995);">Mar-26</div>
<div class="r" style="left:1318.9px;top:434px;width:152.7px;height:24.9px;background:#fff066;"></div>
<div class="t" style="left:1387.22px;top:439.07px;font-size:13.5px;color:#1a1a1a;transform:scaleX(1.070);">60</div>
<div class="r" style="left:1474.8px;top:434px;width:158.7px;height:24.9px;background:#fff066;"></div>
<div class="t" style="left:1550.13px;top:439.07px;font-size:13.5px;color:#1a1a1a;transform:scaleX(1.070);">0</div>
<div class="r" style="left:1636.7px;top:434px;width:107.3px;height:24.9px;background:#fff066;"></div>
<div class="t" style="left:1673.89px;top:439.07px;font-size:13.5px;color:#1a1a1a;transform:scaleX(1.070);">8.0%</div>
<div class="r" style="left:1747.2px;top:434px;width:154.7px;height:24.9px;background:#fff066;"></div>
<div class="t" style="left:1771.68px;top:439.07px;font-size:13.5px;color:#1a1a1a;transform:scaleX(0.978);">Declining Balance</div>
<div class="r" style="left:944.8px;top:459.9px;width:168px;height:24.7px;background:#fff066;"></div>
<div class="t" style="left:945.8px;top:465.37px;font-size:13.5px;color:#1a1a1a;transform:scaleX(0.995);">Loan_3</div>
<div class="r" style="left:1116px;top:459.9px;width:94.8px;height:24.7px;background:#fff066;"></div>
<div class="r" style="left:1214.1px;top:459.9px;width:101.6px;height:24.7px;background:#fff066;"></div>
<div class="r" style="left:1318.9px;top:459.9px;width:152.7px;height:24.7px;background:#fff066;"></div>
<div class="r" style="left:1474.8px;top:459.9px;width:158.7px;height:24.7px;background:#fff066;"></div>
<div class="r" style="left:1636.7px;top:459.9px;width:107.3px;height:24.7px;background:#fff066;"></div>
<div class="r" style="left:1747.2px;top:459.9px;width:154.7px;height:24.7px;background:#fff066;"></div>
<div class="r" style="left:944.8px;top:485.8px;width:168px;height:23px;background:#fff066;"></div>
<div class="t" style="left:945.8px;top:491.57px;font-size:13.5px;color:#1a1a1a;transform:scaleX(0.995);">Loan_4</div>
<div class="r" style="left:1116px;top:485.8px;width:94.8px;height:23px;background:#fff066;"></div>
<div class="r" style="left:1214.1px;top:485.8px;width:101.6px;height:23px;background:#fff066;"></div>
<div class="r" style="left:1318.9px;top:485.8px;width:152.7px;height:23px;background:#fff066;"></div>
<div class="r" style="left:1474.8px;top:485.8px;width:158.7px;height:23px;background:#fff066;"></div>
<div class="r" style="left:1636.7px;top:485.8px;width:107.3px;height:23px;background:#fff066;"></div>
<div class="r" style="left:1747.2px;top:485.8px;width:154.7px;height:23px;background:#fff066;"></div>
<div class="r" style="left:1916.3px;top:355.2px;width:428.6px;height:24.6px;background:#4c50d2;"></div>
<div class="t b" style="left:1975.85px;top:358.91px;font-size:17px;color:#fff;">WORKING CAPITAL &amp; DEPRECIATION</div>
<div class="r" style="left:1915.5px;top:381.4px;width:296px;height:23.3px;background:#6b73e8;"></div>
<div class="r" style="left:2213.1px;top:381.4px;width:132.6px;height:23.3px;background:#6b73e8;"></div>
<div class="t b" style="left:2020.35px;top:385.73px;font-size:14.5px;color:#fff;transform:scaleX(1.030);">Assumption</div>
<div class="t b" style="left:2259.89px;top:386.73px;font-size:14.5px;color:#fff;transform:scaleX(1.030);">Value</div>
<div class="r" style="left:1916.3px;top:408.2px;width:294.4px;height:26.6px;background:#d5d8e6;"></div>
<div class="r" style="left:2214px;top:408.2px;width:130.9px;height:24.6px;background:#fff066;"></div>
<div class="t" style="left:2046.22px;top:413.57px;font-size:13.5px;color:#1a1a1a;transform:scaleX(0.989);">Accounts Receivable Days</div>
<div class="t" style="left:2271.37px;top:413.57px;font-size:13.5px;color:#1a1a1a;transform:scaleX(1.070);">15</div>
<div class="r" style="left:1916.3px;top:434.4px;width:294.4px;height:26.3px;background:#d5d8e6;"></div>
<div class="r" style="left:2214px;top:434.4px;width:130.9px;height:24.3px;background:#fff066;"></div>
<div class="t" style="left:2064.02px;top:439.47px;font-size:13.5px;color:#1a1a1a;transform:scaleX(0.989);">Accounts Payable Days</div>
<div class="t" style="left:2271.37px;top:439.47px;font-size:13.5px;color:#1a1a1a;transform:scaleX(1.070);">15</div>
<div class="r" style="left:1916.3px;top:460.3px;width:294.4px;height:26.1px;background:#d5d8e6;"></div>
<div class="r" style="left:2214px;top:460.3px;width:130.9px;height:24.1px;background:#fff066;"></div>
<div class="t" style="left:2115.97px;top:465.37px;font-size:13.5px;color:#1a1a1a;transform:scaleX(0.989);">Inventory Days</div>
<div class="t" style="left:2271.37px;top:465.37px;font-size:13.5px;color:#1a1a1a;transform:scaleX(1.070);">20</div>
<div class="r" style="left:1916.3px;top:486.2px;width:294.4px;height:22.4px;background:#d5d8e6;"></div>
<div class="r" style="left:2214px;top:486.2px;width:130.9px;height:22.4px;background:#fff066;"></div>
<div class="t" style="left:2041.51px;top:491.57px;font-size:13.5px;color:#1a1a1a;transform:scaleX(0.989);">Depreciation Period (Years)</div>
<div class="t" style="left:2271.37px;top:491.57px;font-size:13.5px;color:#1a1a1a;transform:scaleX(1.070);">10</div>
<div class="r" style="left:2359.1px;top:355.2px;width:484px;height:24.6px;background:#4c50d2;"></div>
<div class="t b" style="left:2544.95px;top:358.91px;font-size:17px;color:#fff;transform:scaleX(0.969);">KEY METRICS</div>
<div class="r" style="left:2358.3px;top:381.4px;width:335.9px;height:23.3px;background:#6b73e8;"></div>
<div class="r" style="left:2696.3px;top:381.4px;width:147.6px;height:23.3px;background:#6b73e8;"></div>
<div class="t b" style="left:2513.85px;top:385.73px;font-size:14.5px;color:#fff;transform:scaleX(1.030);">KPI</div>
<div class="t b" style="left:2750.49px;top:386.73px;font-size:14.5px;color:#fff;transform:scaleX(1.030);">Value</div>
<div class="r" style="left:2359.1px;top:408.2px;width:334.7px;height:26.6px;background:#d5d8e6;"></div>
<div class="r" style="left:2697.1px;top:408.2px;width:146px;height:24.6px;background:#4ab3e8;"></div>
<div class="t" style="left:2544.54px;top:413.57px;font-size:13.5px;color:#1a1a1a;transform:scaleX(1.004);">Return on Equity (ROE)</div>
<div class="t b" style="left:2750.29px;top:413.15px;font-size:14px;color:#fff;transform:scaleX(1.125);-webkit-text-stroke:0.3px #fff;">15.05</div>
<div class="r" style="left:2359.1px;top:434.4px;width:334.7px;height:26.3px;background:#d5d8e6;"></div>
<div class="r" style="left:2697.1px;top:434.4px;width:146px;height:24.3px;background:#4ab3e8;"></div>
<div class="t" style="left:2494.81px;top:439.47px;font-size:13.5px;color:#1a1a1a;transform:scaleX(1.004);">Internal Rate of Return (IRR), %</div>
<div class="t b" style="left:2746.75px;top:439.05px;font-size:14px;color:#fff;transform:scaleX(1.172);-webkit-text-stroke:0.3px #fff;">13.2%</div>
<div class="r" style="left:2359.1px;top:460.3px;width:334.7px;height:26.1px;background:#d5d8e6;"></div>
<div class="r" style="left:2697.1px;top:460.3px;width:146px;height:24.1px;background:#4ab3e8;"></div>
<div class="t" style="left:2555.85px;top:465.37px;font-size:13.5px;color:#1a1a1a;transform:scaleX(1.004);">Minimum Cash Month</div>
<div class="t b" style="left:2746.31px;top:464.95px;font-size:14px;color:#fff;transform:scaleX(1.050);">Feb-26</div>
<div class="r" style="left:2359.1px;top:486.2px;width:334.7px;height:22.4px;background:#d5d8e6;"></div>
<div class="r" style="left:2697.1px;top:486.2px;width:146px;height:22.4px;background:#4ab3e8;"></div>
<div class="t" style="left:2551.75px;top:491.57px;font-size:13.5px;color:#1a1a1a;transform:scaleX(1.004);">Minimum Cash ($'000)</div>
<div class="t b" style="left:2750.29px;top:491.15px;font-size:14px;color:#fff;transform:scaleX(1.125);-webkit-text-stroke:0.3px #fff;">835.5</div>
<div class="r" style="left:63.1px;top:519.2px;width:869.6px;height:26.4px;background:#4c50d2;"></div>
<div class="t b" style="left:378.1px;top:520.95px;font-size:22.5px;color:#fff;transform:scaleX(0.968);">Scenario Multiplicators</div>
<div class="r" style="left:63.9px;top:554.4px;width:356.9px;height:20.8px;background:#6b73e8;"></div>
<div class="t b" style="left:67px;top:556.88px;font-size:15.5px;color:#fff;transform:scaleX(1.053);">Scenarios</div>
<div class="r" style="left:423.9px;top:555px;width:98.6px;height:19px;background:#fff066;"></div>
<div class="t b" style="left:456.78px;top:556.7px;font-size:16.3px;color:#000;transform:scaleX(1.020);">Low</div>
<div class="r" style="left:526px;top:555px;width:98.5px;height:19px;background:#fff066;"></div>
<div class="t b" style="left:555.63px;top:556.7px;font-size:16.3px;color:#000;transform:scaleX(1.020);">Base</div>
<div class="r" style="left:628px;top:555px;width:99px;height:19px;background:#fff066;"></div>
<div class="t b" style="left:658.83px;top:556.7px;font-size:16.3px;color:#000;transform:scaleX(1.020);">High</div>
<div class="r" style="left:730.1px;top:554.4px;width:201.9px;height:20.8px;background:#6b73e8;"></div>
<div class="t b" style="left:775.7px;top:556.88px;font-size:15.5px;color:#fff;transform:scaleX(1.110);">Active (Base)</div>
<div class="t b" style="left:67px;top:585.75px;font-size:14px;color:#000;transform:scaleX(1.028);">Revenue</div>
<div class="r" style="left:423.2px;top:585px;width:99.3px;height:16px;background:#fff066;"></div>
<div class="t" style="left:452.15px;top:586.17px;font-size:13.5px;color:#222;transform:scaleX(1.082);">90.0%</div>
<div class="r" style="left:526px;top:585px;width:98.5px;height:16px;background:#fff066;"></div>
<div class="t" style="left:550.49px;top:586.17px;font-size:13.5px;color:#222;transform:scaleX(1.082);">100.0%</div>
<div class="r" style="left:628px;top:585px;width:99.7px;height:16px;background:#fff066;"></div>
<div class="t" style="left:653.63px;top:586.17px;font-size:13.5px;color:#222;transform:scaleX(1.082);">110.0%</div>
<div class="t b" style="left:802.35px;top:585.75px;font-size:14px;color:#000;transform:scaleX(1.173);-webkit-text-stroke:0.3px #000;">100.0%</div>
<div class="t b" style="left:67px;top:602.75px;font-size:14px;color:#000;transform:scaleX(0.963);">COGS</div>
<div class="r" style="left:423.2px;top:602px;width:99.3px;height:16px;background:#fff066;"></div>
<div class="t" style="left:448.09px;top:603.17px;font-size:13.5px;color:#222;transform:scaleX(1.082);">105.0%</div>
<div class="r" style="left:526px;top:602px;width:98.5px;height:16px;background:#fff066;"></div>
<div class="t" style="left:550.49px;top:603.17px;font-size:13.5px;color:#222;transform:scaleX(1.082);">100.0%</div>
<div class="r" style="left:628px;top:602px;width:99.7px;height:16px;background:#fff066;"></div>
<div class="t" style="left:657.15px;top:603.17px;font-size:13.5px;color:#222;transform:scaleX(1.082);">90.0%</div>
<div class="t b" style="left:802.35px;top:602.75px;font-size:14px;color:#000;transform:scaleX(1.173);-webkit-text-stroke:0.3px #000;">100.0%</div>
<div class="t b" style="left:67px;top:619.75px;font-size:14px;color:#000;transform:scaleX(1.008);">Variable Expenses</div>
<div class="r" style="left:423.2px;top:619px;width:99.3px;height:16px;background:#fff066;"></div>
<div class="t" style="left:448.63px;top:620.17px;font-size:13.5px;color:#222;transform:scaleX(1.082);">115.0%</div>
<div class="r" style="left:526px;top:619px;width:98.5px;height:16px;background:#fff066;"></div>
<div class="t" style="left:550.49px;top:620.17px;font-size:13.5px;color:#222;transform:scaleX(1.082);">100.0%</div>
<div class="r" style="left:628px;top:619px;width:99.7px;height:16px;background:#fff066;"></div>
<div class="t" style="left:657.15px;top:620.17px;font-size:13.5px;color:#222;transform:scaleX(1.082);">90.0%</div>
<div class="t b" style="left:802.35px;top:619.75px;font-size:14px;color:#000;transform:scaleX(1.173);-webkit-text-stroke:0.3px #000;">100.0%</div>
<div class="t b" style="left:67px;top:636.75px;font-size:14px;color:#000;transform:scaleX(0.990);">Fixed Expenses</div>
<div class="r" style="left:423.2px;top:636px;width:99.3px;height:16px;background:#fff066;"></div>
<div class="t" style="left:448.09px;top:637.17px;font-size:13.5px;color:#222;transform:scaleX(1.082);">120.0%</div>
<div class="r" style="left:526px;top:636px;width:98.5px;height:16px;background:#fff066;"></div>
<div class="t" style="left:550.49px;top:637.17px;font-size:13.5px;color:#222;transform:scaleX(1.082);">100.0%</div>
<div class="r" style="left:628px;top:636px;width:99.7px;height:16px;background:#fff066;"></div>
<div class="t" style="left:657.15px;top:637.17px;font-size:13.5px;color:#222;transform:scaleX(1.082);">85.0%</div>
<div class="t b" style="left:802.35px;top:636.75px;font-size:14px;color:#000;transform:scaleX(1.173);-webkit-text-stroke:0.3px #000;">100.0%</div>
<div class="t b" style="left:67px;top:653.75px;font-size:14px;color:#000;transform:scaleX(0.991);">Payroll Expenses</div>
<div class="r" style="left:423.2px;top:653px;width:99.3px;height:16px;background:#fff066;"></div>
<div class="t" style="left:448.09px;top:654.17px;font-size:13.5px;color:#222;transform:scaleX(1.082);">125.0%</div>
<div class="r" style="left:526px;top:653px;width:98.5px;height:16px;background:#fff066;"></div>
<div class="t" style="left:550.49px;top:654.17px;font-size:13.5px;color:#222;transform:scaleX(1.082);">100.0%</div>
<div class="r" style="left:628px;top:653px;width:99.7px;height:16px;background:#fff066;"></div>
<div class="t" style="left:657.15px;top:654.17px;font-size:13.5px;color:#222;transform:scaleX(1.082);">80.0%</div>
<div class="t b" style="left:802.35px;top:653.75px;font-size:14px;color:#000;transform:scaleX(1.173);-webkit-text-stroke:0.3px #000;">100.0%</div>
<div class="r" style="left:63.1px;top:678.3px;width:869.6px;height:26.1px;background:#4c50d2;"></div>
<div class="t b" style="left:219.15px;top:679.95px;font-size:22.5px;color:#fff;transform:scaleX(0.994);">Scenario Outputs ($'000) - 5 years to December 2030</div>
<div class="r" style="left:64px;top:713.4px;width:358px;height:18.4px;background:#6b73e8;"></div>
<div class="r" style="left:423px;top:713.4px;width:101px;height:18.4px;background:#6b73e8;"></div>
<div class="r" style="left:525px;top:713.4px;width:101px;height:18.4px;background:#6b73e8;"></div>
<div class="r" style="left:627px;top:713.4px;width:101px;height:18.4px;background:#6b73e8;"></div>
<div class="r" style="left:729px;top:713.4px;width:203px;height:18.4px;background:#6b73e8;"></div>
<div class="t b" style="left:67px;top:713.88px;font-size:15.5px;color:#fff;transform:scaleX(1.074);">KPIs</div>
<div class="t b" style="left:456.97px;top:714.28px;font-size:15.5px;color:#fff;transform:scaleX(1.060);">Low</div>
<div class="t b" style="left:555.86px;top:714.28px;font-size:15.5px;color:#fff;transform:scaleX(1.060);">Base</div>
<div class="t b" style="left:658.95px;top:714.28px;font-size:15.5px;color:#fff;transform:scaleX(1.060);">High</div>
<div class="t b" style="left:775.7px;top:713.88px;font-size:15.5px;color:#fff;transform:scaleX(1.110);">Active (Base)</div>
<div class="t" style="left:79.1px;top:745.97px;font-size:13.5px;color:#1a1a1a;transform:scaleX(0.995);">Revenue</div>
<div class="t" style="left:472.02px;top:745.97px;font-size:13.5px;color:#1a1a1a;transform:scaleX(1.070);">23,405</div>
<div class="t" style="left:574.1px;top:745.97px;font-size:13.5px;color:#1a1a1a;transform:scaleX(1.070);">26,006</div>
<div class="t" style="left:676.18px;top:745.97px;font-size:13.5px;color:#1a1a1a;transform:scaleX(1.070);">28,607</div>
<div class="t b" style="left:806.11px;top:745.55px;font-size:14px;color:#111;transform:scaleX(1.125);-webkit-text-stroke:0.3px #111;">26,006</div>
<div class="t" style="left:79.1px;top:763.07px;font-size:13.5px;color:#1a1a1a;transform:scaleX(0.930);">COGS</div>
<div class="t" style="left:476.33px;top:763.07px;font-size:13.5px;color:#1a1a1a;transform:scaleX(1.070);">(2,638)</div>
<div class="t" style="left:578.41px;top:763.07px;font-size:13.5px;color:#1a1a1a;transform:scaleX(1.070);">(2,512)</div>
<div class="t" style="left:680.49px;top:763.07px;font-size:13.5px;color:#1a1a1a;transform:scaleX(1.070);">(2,261)</div>
<div class="t b" style="left:805.94px;top:762.65px;font-size:14px;color:#111;transform:scaleX(1.125);-webkit-text-stroke:0.3px #111;">(2,512)</div>
<div class="r" style="left:63.9px;top:779.1px;width:868.1px;height:18.8px;background:#4ab3e8;"></div>
<div class="t b" style="left:67px;top:781px;font-size:15px;color:#fff;transform:scaleX(1.092);">Gross Margin</div>
<div class="t b" style="left:466.91px;top:781.55px;font-size:14px;color:#fff;transform:scaleX(1.125);-webkit-text-stroke:0.3px #fff;">20,768</div>
<div class="t b" style="left:568.99px;top:781.55px;font-size:14px;color:#fff;transform:scaleX(1.125);-webkit-text-stroke:0.3px #fff;">23,494</div>
<div class="t b" style="left:671.07px;top:781.55px;font-size:14px;color:#fff;transform:scaleX(1.125);-webkit-text-stroke:0.3px #fff;">26,346</div>
<div class="t b" style="left:806.11px;top:780.85px;font-size:14px;color:#fff;transform:scaleX(1.125);-webkit-text-stroke:0.3px #fff;">23,494</div>
<div class="t i" style="left:67px;top:800.17px;font-size:13.5px;color:#1a1a1a;transform:scaleX(0.989);">Gross Margin %</div>
<div class="t i" style="left:480.67px;top:800.17px;font-size:13.5px;color:#1a1a1a;transform:scaleX(1.030);">88.7%</div>
<div class="t i" style="left:582.75px;top:800.17px;font-size:13.5px;color:#1a1a1a;transform:scaleX(1.030);">90.3%</div>
<div class="t i" style="left:684.83px;top:800.17px;font-size:13.5px;color:#1a1a1a;transform:scaleX(1.030);">92.1%</div>
<div class="t b i" style="left:806.95px;top:799.75px;font-size:14px;color:#111;transform:scaleX(1.172);-webkit-text-stroke:0.3px #111;">90.3%</div>
<div class="t" style="left:79.1px;top:816.87px;font-size:13.5px;color:#1a1a1a;transform:scaleX(0.995);">Variable Expenses</div>
<div class="t" style="left:476.33px;top:816.87px;font-size:13.5px;color:#1a1a1a;transform:scaleX(1.070);">(3,615)</div>
<div class="t" style="left:578.41px;top:816.87px;font-size:13.5px;color:#1a1a1a;transform:scaleX(1.070);">(3,144)</div>
<div class="t" style="left:680.49px;top:816.87px;font-size:13.5px;color:#1a1a1a;transform:scaleX(1.070);">(2,829)</div>
<div class="t b" style="left:805.94px;top:816.45px;font-size:14px;color:#111;transform:scaleX(1.125);-webkit-text-stroke:0.3px #111;">(3,144)</div>
<div class="r" style="left:63.9px;top:833.3px;width:868.1px;height:18.8px;background:#4ab3e8;"></div>
<div class="t b" style="left:67px;top:835.4px;font-size:15px;color:#fff;transform:scaleX(1.137);">Contribution Margin</div>
<div class="t b" style="left:466.91px;top:835.95px;font-size:14px;color:#fff;transform:scaleX(1.125);-webkit-text-stroke:0.3px #fff;">17,152</div>
<div class="t b" style="left:568.99px;top:835.95px;font-size:14px;color:#fff;transform:scaleX(1.125);-webkit-text-stroke:0.3px #fff;">20,350</div>
<div class="t b" style="left:671.07px;top:835.95px;font-size:14px;color:#fff;transform:scaleX(1.125);-webkit-text-stroke:0.3px #fff;">23,516</div>
<div class="t b" style="left:806.11px;top:835.25px;font-size:14px;color:#fff;transform:scaleX(1.125);-webkit-text-stroke:0.3px #fff;">20,350</div>
<div class="t i" style="left:67px;top:854.27px;font-size:13.5px;color:#1a1a1a;transform:scaleX(0.989);">Contribution Margin %</div>
<div class="t i" style="left:480.67px;top:854.27px;font-size:13.5px;color:#1a1a1a;transform:scaleX(1.030);">73.3%</div>
<div class="t i" style="left:582.75px;top:854.27px;font-size:13.5px;color:#1a1a1a;transform:scaleX(1.030);">78.3%</div>
<div class="t i" style="left:684.83px;top:854.27px;font-size:13.5px;color:#1a1a1a;transform:scaleX(1.030);">82.2%</div>
<div class="t b i" style="left:806.95px;top:853.85px;font-size:14px;color:#111;transform:scaleX(1.172);-webkit-text-stroke:0.3px #111;">78.3%</div>
<div class="t" style="left:79.1px;top:871.47px;font-size:13.5px;color:#1a1a1a;transform:scaleX(0.995);">Fixed Expenses</div>
<div class="t" style="left:488.38px;top:871.47px;font-size:13.5px;color:#1a1a1a;transform:scaleX(1.070);">(482)</div>
<div class="t" style="left:590.46px;top:871.47px;font-size:13.5px;color:#1a1a1a;transform:scaleX(1.070);">(402)</div>
<div class="t" style="left:692.54px;top:871.47px;font-size:13.5px;color:#1a1a1a;transform:scaleX(1.070);">(342)</div>
<div class="t b" style="left:812.51px;top:871.05px;font-size:14px;color:#111;transform:scaleX(1.125);-webkit-text-stroke:0.3px #111;">(402)</div>
<div class="t" style="left:79.1px;top:888.17px;font-size:13.5px;color:#1a1a1a;transform:scaleX(0.995);">Payroll Expenses</div>
<div class="t" style="left:476.33px;top:888.17px;font-size:13.5px;color:#1a1a1a;transform:scaleX(1.070);">(7,249)</div>
<div class="t" style="left:578.41px;top:888.17px;font-size:13.5px;color:#1a1a1a;transform:scaleX(1.070);">(5,799)</div>
<div class="t" style="left:680.49px;top:888.17px;font-size:13.5px;color:#1a1a1a;transform:scaleX(1.070);">(4,639)</div>
<div class="t b" style="left:805.94px;top:887.75px;font-size:14px;color:#111;transform:scaleX(1.125);-webkit-text-stroke:0.3px #111;">(5,799)</div>
<div class="r" style="left:63.9px;top:904.2px;width:868.1px;height:18.8px;background:#4ab3e8;"></div>
<div class="t b" style="left:67px;top:906.2px;font-size:15px;color:#fff;transform:scaleX(1.121);">EBITDA</div>
<div class="t b" style="left:475.67px;top:906.75px;font-size:14px;color:#fff;transform:scaleX(1.125);-webkit-text-stroke:0.3px #fff;">9,421</div>
<div class="t b" style="left:568.99px;top:906.75px;font-size:14px;color:#fff;transform:scaleX(1.125);-webkit-text-stroke:0.3px #fff;">14,149</div>
<div class="t b" style="left:671.07px;top:906.75px;font-size:14px;color:#fff;transform:scaleX(1.125);-webkit-text-stroke:0.3px #fff;">18,535</div>
<div class="t b" style="left:806.11px;top:906.05px;font-size:14px;color:#fff;transform:scaleX(1.125);-webkit-text-stroke:0.3px #fff;">14,149</div>
<div class="t i" style="left:67px;top:924.77px;font-size:13.5px;color:#1a1a1a;transform:scaleX(0.989);">EBITDA %</div>
<div class="t i" style="left:480.67px;top:924.77px;font-size:13.5px;color:#1a1a1a;transform:scaleX(1.030);">40.3%</div>
<div class="t i" style="left:582.75px;top:924.77px;font-size:13.5px;color:#1a1a1a;transform:scaleX(1.030);">54.4%</div>
<div class="t i" style="left:684.83px;top:924.77px;font-size:13.5px;color:#1a1a1a;transform:scaleX(1.030);">64.8%</div>
<div class="t b i" style="left:806.95px;top:924.35px;font-size:14px;color:#111;transform:scaleX(1.172);-webkit-text-stroke:0.3px #111;">54.4%</div>
<div class="r" style="left:63.1px;top:949.2px;width:869.6px;height:26.6px;background:#4c50d2;"></div>
<div class="t b" style="left:377.3px;top:950.95px;font-size:22.5px;color:#fff;transform:scaleX(0.988);">Core Financials ($'000)</div>
<div class="r" style="left:64px;top:982.1px;width:358px;height:17.9px;background:#6b73e8;"></div>
<div class="r" style="left:423px;top:982.1px;width:101px;height:17.9px;background:#6b73e8;"></div>
<div class="r" style="left:525px;top:982.1px;width:101px;height:17.9px;background:#6b73e8;"></div>
<div class="r" style="left:627px;top:982.1px;width:101px;height:17.9px;background:#6b73e8;"></div>
<div class="r" style="left:729px;top:982.1px;width:101px;height:17.9px;background:#6b73e8;"></div>
<div class="r" style="left:831px;top:982.1px;width:101px;height:17.9px;background:#6b73e8;"></div>
<div class="t b" style="left:67px;top:983.03px;font-size:14.5px;color:#fff;transform:scaleX(0.934);">Fiscal Year</div>
<div class="t b" style="left:455.65px;top:984.45px;font-size:14px;color:#fff;transform:scaleX(1.140);-webkit-text-stroke:0.3px #fff;">2026</div>
<div class="t b" style="left:557.75px;top:984.45px;font-size:14px;color:#fff;transform:scaleX(1.140);-webkit-text-stroke:0.3px #fff;">2027</div>
<div class="t b" style="left:659.75px;top:984.45px;font-size:14px;color:#fff;transform:scaleX(1.140);-webkit-text-stroke:0.3px #fff;">2028</div>
<div class="t b" style="left:761.85px;top:984.45px;font-size:14px;color:#fff;transform:scaleX(1.140);-webkit-text-stroke:0.3px #fff;">2029</div>
<div class="t b" style="left:863.95px;top:984.45px;font-size:14px;color:#fff;transform:scaleX(1.140);-webkit-text-stroke:0.3px #fff;">2030</div>
<div class="t" style="left:80.3px;top:1012.47px;font-size:13.5px;color:#1a1a1a;transform:scaleX(0.995);">Revenue</div>
<div class="t" style="left:492.1px;top:1012.47px;font-size:13.5px;color:#1a1a1a;transform:scaleX(1.070);">637</div>
<div class="t" style="left:582.13px;top:1012.47px;font-size:13.5px;color:#1a1a1a;transform:scaleX(1.070);">1,924</div>
<div class="t" style="left:684.21px;top:1012.47px;font-size:13.5px;color:#1a1a1a;transform:scaleX(1.070);">3,945</div>
<div class="t" style="left:786.29px;top:1012.47px;font-size:13.5px;color:#1a1a1a;transform:scaleX(1.070);">7,012</div>
<div class="t" style="left:880.34px;top:1012.47px;font-size:13.5px;color:#1a1a1a;transform:scaleX(1.070);">12,488</div>
<div class="t" style="left:80.3px;top:1030.5px;font-size:13.5px;color:#1a1a1a;transform:scaleX(0.930);">COGS</div>
<div class="t" style="left:496.41px;top:1030.5px;font-size:13.5px;color:#1a1a1a;transform:scaleX(1.070);">(76)</div>
<div class="t" style="left:590.46px;top:1030.5px;font-size:13.5px;color:#1a1a1a;transform:scaleX(1.070);">(217)</div>
<div class="t" style="left:692.54px;top:1030.5px;font-size:13.5px;color:#1a1a1a;transform:scaleX(1.070);">(414)</div>
<div class="t" style="left:794.62px;top:1030.5px;font-size:13.5px;color:#1a1a1a;transform:scaleX(1.070);">(680)</div>
<div class="t" style="left:884.65px;top:1030.5px;font-size:13.5px;color:#1a1a1a;transform:scaleX(1.070);">(1,124)</div>
<div class="r" style="left:63.1px;top:1045.2px;width:869.6px;height:18.6px;background:#4ab3e8;"></div>
<div class="t b" style="left:81.4px;top:1049.06px;font-size:13px;color:#fff;transform:scaleX(1.067);">Gross Margin</div>
<div class="t b" style="left:488.81px;top:1047.91px;font-size:14px;color:#fff;transform:scaleX(1.125);-webkit-text-stroke:0.3px #fff;">561</div>
<div class="t b" style="left:577.75px;top:1047.91px;font-size:14px;color:#fff;transform:scaleX(1.125);-webkit-text-stroke:0.3px #fff;">1,706</div>
<div class="t b" style="left:679.83px;top:1047.91px;font-size:14px;color:#fff;transform:scaleX(1.125);-webkit-text-stroke:0.3px #fff;">3,531</div>
<div class="t b" style="left:781.91px;top:1047.91px;font-size:14px;color:#fff;transform:scaleX(1.125);-webkit-text-stroke:0.3px #fff;">6,332</div>
<div class="t b" style="left:876.1px;top:1047.91px;font-size:14px;color:#fff;transform:scaleX(1.125);-webkit-text-stroke:0.3px #fff;">11,364</div>
<div class="t i" style="left:81.4px;top:1066.56px;font-size:13.5px;color:#1a1a1a;transform:scaleX(0.989);">Gross Margin %</div>
<div class="t i" style="left:480.67px;top:1066.56px;font-size:13.5px;color:#1a1a1a;transform:scaleX(1.030);">88.0%</div>
<div class="t i" style="left:582.75px;top:1066.56px;font-size:13.5px;color:#1a1a1a;transform:scaleX(1.030);">88.7%</div>
<div class="t i" style="left:684.83px;top:1066.56px;font-size:13.5px;color:#1a1a1a;transform:scaleX(1.030);">89.5%</div>
<div class="t i" style="left:786.91px;top:1066.56px;font-size:13.5px;color:#1a1a1a;transform:scaleX(1.030);">90.3%</div>
<div class="t i" style="left:888.99px;top:1066.56px;font-size:13.5px;color:#1a1a1a;transform:scaleX(1.030);">91.0%</div>
<div class="t" style="left:80.3px;top:1084.59px;font-size:13.5px;color:#1a1a1a;transform:scaleX(0.995);">Variable Expenses</div>
<div class="t" style="left:488.38px;top:1084.59px;font-size:13.5px;color:#1a1a1a;transform:scaleX(1.070);">(121)</div>
<div class="t" style="left:590.46px;top:1084.59px;font-size:13.5px;color:#1a1a1a;transform:scaleX(1.070);">(310)</div>
<div class="t" style="left:692.54px;top:1084.59px;font-size:13.5px;color:#1a1a1a;transform:scaleX(1.070);">(553)</div>
<div class="t" style="left:794.62px;top:1084.59px;font-size:13.5px;color:#1a1a1a;transform:scaleX(1.070);">(856)</div>
<div class="t" style="left:884.65px;top:1084.59px;font-size:13.5px;color:#1a1a1a;transform:scaleX(1.070);">(1,304)</div>
<div class="r" style="left:63.1px;top:1099.29px;width:869.6px;height:18.6px;background:#4ab3e8;"></div>
<div class="t b" style="left:81.4px;top:1103.15px;font-size:13px;color:#fff;transform:scaleX(1.067);">Contribution Margin</div>
<div class="t b" style="left:488.81px;top:1102px;font-size:14px;color:#fff;transform:scaleX(1.125);-webkit-text-stroke:0.3px #fff;">440</div>
<div class="t b" style="left:577.75px;top:1102px;font-size:14px;color:#fff;transform:scaleX(1.125);-webkit-text-stroke:0.3px #fff;">1,397</div>
<div class="t b" style="left:679.83px;top:1102px;font-size:14px;color:#fff;transform:scaleX(1.125);-webkit-text-stroke:0.3px #fff;">2,977</div>
<div class="t b" style="left:781.91px;top:1102px;font-size:14px;color:#fff;transform:scaleX(1.125);-webkit-text-stroke:0.3px #fff;">5,476</div>
<div class="t b" style="left:875.23px;top:1102px;font-size:14px;color:#fff;transform:scaleX(1.125);-webkit-text-stroke:0.3px #fff;">10,060</div>
<div class="t i" style="left:81.4px;top:1120.65px;font-size:13.5px;color:#1a1a1a;transform:scaleX(0.989);">Contribution Margin %</div>
<div class="t i" style="left:480.67px;top:1120.65px;font-size:13.5px;color:#1a1a1a;transform:scaleX(1.030);">69.1%</div>
<div class="t i" style="left:582.75px;top:1120.65px;font-size:13.5px;color:#1a1a1a;transform:scaleX(1.030);">72.6%</div>
<div class="t i" style="left:684.83px;top:1120.65px;font-size:13.5px;color:#1a1a1a;transform:scaleX(1.030);">75.5%</div>
<div class="t i" style="left:786.91px;top:1120.65px;font-size:13.5px;color:#1a1a1a;transform:scaleX(1.030);">78.1%</div>
<div class="t i" style="left:888.99px;top:1120.65px;font-size:13.5px;color:#1a1a1a;transform:scaleX(1.030);">80.6%</div>
<div class="t" style="left:80.3px;top:1138.68px;font-size:13.5px;color:#1a1a1a;transform:scaleX(0.995);">Payroll Expenses</div>
<div class="t" style="left:488.38px;top:1138.68px;font-size:13.5px;color:#1a1a1a;transform:scaleX(1.070);">(340)</div>
<div class="t" style="left:590.46px;top:1138.68px;font-size:13.5px;color:#1a1a1a;transform:scaleX(1.070);">(672)</div>
<div class="t" style="left:680.49px;top:1138.68px;font-size:13.5px;color:#1a1a1a;transform:scaleX(1.070);">(1,207)</div>
<div class="t" style="left:782.57px;top:1138.68px;font-size:13.5px;color:#1a1a1a;transform:scaleX(1.070);">(1,565)</div>
<div class="t" style="left:884.65px;top:1138.68px;font-size:13.5px;color:#1a1a1a;transform:scaleX(1.070);">(2,015)</div>
<div class="t" style="left:80.3px;top:1156.71px;font-size:13.5px;color:#1a1a1a;transform:scaleX(0.995);">Fixed Expenses</div>
<div class="t" style="left:496.41px;top:1156.71px;font-size:13.5px;color:#1a1a1a;transform:scaleX(1.070);">(80)</div>
<div class="t" style="left:598.49px;top:1156.71px;font-size:13.5px;color:#1a1a1a;transform:scaleX(1.070);">(80)</div>
<div class="t" style="left:700.57px;top:1156.71px;font-size:13.5px;color:#1a1a1a;transform:scaleX(1.070);">(80)</div>
<div class="t" style="left:802.65px;top:1156.71px;font-size:13.5px;color:#1a1a1a;transform:scaleX(1.070);">(80)</div>
<div class="t" style="left:904.73px;top:1156.71px;font-size:13.5px;color:#1a1a1a;transform:scaleX(1.070);">(80)</div>
<div class="r" style="left:63.1px;top:1171.41px;width:869.6px;height:18.6px;background:#4ab3e8;"></div>
<div class="t b" style="left:81.4px;top:1175.27px;font-size:13px;color:#fff;transform:scaleX(1.067);">EBITDA</div>
<div class="t b" style="left:497.58px;top:1174.12px;font-size:14px;color:#fff;transform:scaleX(1.125);-webkit-text-stroke:0.3px #fff;">20</div>
<div class="t b" style="left:590.89px;top:1174.12px;font-size:14px;color:#fff;transform:scaleX(1.125);-webkit-text-stroke:0.3px #fff;">644</div>
<div class="t b" style="left:679.83px;top:1174.12px;font-size:14px;color:#fff;transform:scaleX(1.125);-webkit-text-stroke:0.3px #fff;">1,690</div>
<div class="t b" style="left:781.91px;top:1174.12px;font-size:14px;color:#fff;transform:scaleX(1.125);-webkit-text-stroke:0.3px #fff;">3,830</div>
<div class="t b" style="left:883.99px;top:1174.12px;font-size:14px;color:#fff;transform:scaleX(1.125);-webkit-text-stroke:0.3px #fff;">7,965</div>
<div class="t i" style="left:81.4px;top:1192.77px;font-size:13.5px;color:#1a1a1a;transform:scaleX(0.989);">EBITDA %</div>
<div class="t i" style="left:488.41px;top:1192.77px;font-size:13.5px;color:#1a1a1a;transform:scaleX(1.030);">3.1%</div>
<div class="t i" style="left:582.75px;top:1192.77px;font-size:13.5px;color:#1a1a1a;transform:scaleX(1.030);">33.5%</div>
<div class="t i" style="left:684.83px;top:1192.77px;font-size:13.5px;color:#1a1a1a;transform:scaleX(1.030);">42.8%</div>
<div class="t i" style="left:786.91px;top:1192.77px;font-size:13.5px;color:#1a1a1a;transform:scaleX(1.030);">54.6%</div>
<div class="t i" style="left:888.99px;top:1192.77px;font-size:13.5px;color:#1a1a1a;transform:scaleX(1.030);">63.8%</div>
<div class="t" style="left:80.3px;top:1210.8px;font-size:13.5px;color:#1a1a1a;transform:scaleX(0.995);">Depreciation &amp; Amortization</div>
<div class="t" style="left:504.44px;top:1210.8px;font-size:13.5px;color:#1a1a1a;transform:scaleX(1.070);">(6)</div>
<div class="t" style="left:606.52px;top:1210.8px;font-size:13.5px;color:#1a1a1a;transform:scaleX(1.070);">(7)</div>
<div class="t" style="left:708.6px;top:1210.8px;font-size:13.5px;color:#1a1a1a;transform:scaleX(1.070);">(7)</div>
<div class="t" style="left:810.68px;top:1210.8px;font-size:13.5px;color:#1a1a1a;transform:scaleX(1.070);">(7)</div>
<div class="t" style="left:912.76px;top:1210.8px;font-size:13.5px;color:#1a1a1a;transform:scaleX(1.070);">(7)</div>
<div class="r" style="left:63.1px;top:1225.5px;width:869.6px;height:18.6px;background:#4ab3e8;"></div>
<div class="t b" style="left:81.4px;top:1229.36px;font-size:13px;color:#fff;transform:scaleX(1.067);">EBIT</div>
<div class="t b" style="left:497.58px;top:1228.21px;font-size:14px;color:#fff;transform:scaleX(1.125);-webkit-text-stroke:0.3px #fff;">14</div>
<div class="t b" style="left:590.89px;top:1228.21px;font-size:14px;color:#fff;transform:scaleX(1.125);-webkit-text-stroke:0.3px #fff;">637</div>
<div class="t b" style="left:679.83px;top:1228.21px;font-size:14px;color:#fff;transform:scaleX(1.125);-webkit-text-stroke:0.3px #fff;">1,683</div>
<div class="t b" style="left:781.91px;top:1228.21px;font-size:14px;color:#fff;transform:scaleX(1.125);-webkit-text-stroke:0.3px #fff;">3,823</div>
<div class="t b" style="left:883.99px;top:1228.21px;font-size:14px;color:#fff;transform:scaleX(1.125);-webkit-text-stroke:0.3px #fff;">7,958</div>
<div class="t i" style="left:81.4px;top:1246.86px;font-size:13.5px;color:#1a1a1a;transform:scaleX(0.989);">EBIT %</div>
<div class="t i" style="left:488.41px;top:1246.86px;font-size:13.5px;color:#1a1a1a;transform:scaleX(1.030);">2.1%</div>
<div class="t i" style="left:582.75px;top:1246.86px;font-size:13.5px;color:#1a1a1a;transform:scaleX(1.030);">33.1%</div>
<div class="t i" style="left:684.83px;top:1246.86px;font-size:13.5px;color:#1a1a1a;transform:scaleX(1.030);">42.7%</div>
<div class="t i" style="left:786.91px;top:1246.86px;font-size:13.5px;color:#1a1a1a;transform:scaleX(1.030);">54.5%</div>
<div class="t i" style="left:888.99px;top:1246.86px;font-size:13.5px;color:#1a1a1a;transform:scaleX(1.030);">63.7%</div>
<div class="t" style="left:80.3px;top:1264.89px;font-size:13.5px;color:#1a1a1a;transform:scaleX(0.995);">Interest Expense</div>
<div class="t" style="left:496.41px;top:1264.89px;font-size:13.5px;color:#1a1a1a;transform:scaleX(1.070);">(18)</div>
<div class="t" style="left:598.49px;top:1264.89px;font-size:13.5px;color:#1a1a1a;transform:scaleX(1.070);">(17)</div>
<div class="t" style="left:700.57px;top:1264.89px;font-size:13.5px;color:#1a1a1a;transform:scaleX(1.070);">(14)</div>
<div class="t" style="left:803.72px;top:1264.89px;font-size:13.5px;color:#1a1a1a;transform:scaleX(1.070);">(11)</div>
<div class="t" style="left:912.76px;top:1264.89px;font-size:13.5px;color:#1a1a1a;transform:scaleX(1.070);">(7)</div>
<div class="r" style="left:63.1px;top:1279.59px;width:869.6px;height:18.6px;background:#4ab3e8;"></div>
<div class="t b" style="left:81.4px;top:1283.45px;font-size:13px;color:#fff;transform:scaleX(1.067);">Net Profit Before Tax</div>
<div class="t b" style="left:501.34px;top:1282.3px;font-size:14px;color:#fff;transform:scaleX(1.125);-webkit-text-stroke:0.3px #fff;">(5)</div>
<div class="t b" style="left:590.89px;top:1282.3px;font-size:14px;color:#fff;transform:scaleX(1.125);-webkit-text-stroke:0.3px #fff;">620</div>
<div class="t b" style="left:679.83px;top:1282.3px;font-size:14px;color:#fff;transform:scaleX(1.125);-webkit-text-stroke:0.3px #fff;">1,669</div>
<div class="t b" style="left:781.91px;top:1282.3px;font-size:14px;color:#fff;transform:scaleX(1.125);-webkit-text-stroke:0.3px #fff;">3,812</div>
<div class="t b" style="left:883.99px;top:1282.3px;font-size:14px;color:#fff;transform:scaleX(1.125);-webkit-text-stroke:0.3px #fff;">7,950</div>
<div class="t" style="left:80.3px;top:1300.95px;font-size:13.5px;color:#1a1a1a;transform:scaleX(0.995);">Corporate Tax Expense</div>
<div class="t" style="left:511.39px;top:1300.95px;font-size:13.5px;color:#1a1a1a;transform:scaleX(1.070);">-</div>
<div class="t" style="left:590.46px;top:1300.95px;font-size:13.5px;color:#1a1a1a;transform:scaleX(1.070);">(155)</div>
<div class="t" style="left:692.54px;top:1300.95px;font-size:13.5px;color:#1a1a1a;transform:scaleX(1.070);">(417)</div>
<div class="t" style="left:794.62px;top:1300.95px;font-size:13.5px;color:#1a1a1a;transform:scaleX(1.070);">(953)</div>
<div class="t" style="left:884.65px;top:1300.95px;font-size:13.5px;color:#1a1a1a;transform:scaleX(1.070);">(1,988)</div>
<div class="r" style="left:63.1px;top:1315.65px;width:869.6px;height:18.6px;background:#4ab3e8;"></div>
<div class="t b" style="left:81.4px;top:1319.51px;font-size:13px;color:#fff;transform:scaleX(1.067);">Net Profit After Tax</div>
<div class="t b" style="left:501.34px;top:1318.36px;font-size:14px;color:#fff;transform:scaleX(1.125);-webkit-text-stroke:0.3px #fff;">(5)</div>
<div class="t b" style="left:590.89px;top:1318.36px;font-size:14px;color:#fff;transform:scaleX(1.125);-webkit-text-stroke:0.3px #fff;">465</div>
<div class="t b" style="left:679.83px;top:1318.36px;font-size:14px;color:#fff;transform:scaleX(1.125);-webkit-text-stroke:0.3px #fff;">1,251</div>
<div class="t b" style="left:781.91px;top:1318.36px;font-size:14px;color:#fff;transform:scaleX(1.125);-webkit-text-stroke:0.3px #fff;">2,859</div>
<div class="t b" style="left:883.99px;top:1318.36px;font-size:14px;color:#fff;transform:scaleX(1.125);-webkit-text-stroke:0.3px #fff;">5,963</div>
<div class="t i" style="left:81.4px;top:1337.01px;font-size:13.5px;color:#1a1a1a;transform:scaleX(0.989);">Net Profit After Tax %</div>
<div class="t i" style="left:488.41px;top:1337.01px;font-size:13.5px;color:#1a1a1a;transform:scaleX(1.030);">0.0%</div>
<div class="t i" style="left:582.75px;top:1337.01px;font-size:13.5px;color:#1a1a1a;transform:scaleX(1.030);">24.2%</div>
<div class="t i" style="left:684.83px;top:1337.01px;font-size:13.5px;color:#1a1a1a;transform:scaleX(1.030);">31.7%</div>
<div class="t i" style="left:786.91px;top:1337.01px;font-size:13.5px;color:#1a1a1a;transform:scaleX(1.030);">40.8%</div>
<div class="t i" style="left:888.99px;top:1337.01px;font-size:13.5px;color:#1a1a1a;transform:scaleX(1.030);">47.7%</div>
<div class="t" style="left:80.3px;top:1355.04px;font-size:13.5px;color:#1a1a1a;transform:scaleX(0.995);">Operating Cash Flows</div>
<div class="t" style="left:496.41px;top:1355.04px;font-size:13.5px;color:#1a1a1a;transform:scaleX(1.070);">(12)</div>
<div class="t" style="left:594.18px;top:1355.04px;font-size:13.5px;color:#1a1a1a;transform:scaleX(1.070);">432</div>
<div class="t" style="left:684.21px;top:1355.04px;font-size:13.5px;color:#1a1a1a;transform:scaleX(1.070);">1,198</div>
<div class="t" style="left:786.29px;top:1355.04px;font-size:13.5px;color:#1a1a1a;transform:scaleX(1.070);">2,750</div>
<div class="t" style="left:888.37px;top:1355.04px;font-size:13.5px;color:#1a1a1a;transform:scaleX(1.070);">5,745</div>
<div class="r" style="left:63.1px;top:1369.74px;width:869.6px;height:18.6px;background:#4ab3e8;"></div>
<div class="t b" style="left:81.4px;top:1373.6px;font-size:13px;color:#fff;transform:scaleX(1.067);">Cash</div>
<div class="t b" style="left:488.81px;top:1372.45px;font-size:14px;color:#fff;transform:scaleX(1.125);-webkit-text-stroke:0.3px #fff;">899</div>
<div class="t b" style="left:577.75px;top:1372.45px;font-size:14px;color:#fff;transform:scaleX(1.125);-webkit-text-stroke:0.3px #fff;">1,285</div>
<div class="t b" style="left:679.83px;top:1372.45px;font-size:14px;color:#fff;transform:scaleX(1.125);-webkit-text-stroke:0.3px #fff;">2,435</div>
<div class="t b" style="left:781.91px;top:1372.45px;font-size:14px;color:#fff;transform:scaleX(1.125);-webkit-text-stroke:0.3px #fff;">5,136</div>
<div class="t b" style="left:875.23px;top:1372.45px;font-size:14px;color:#fff;transform:scaleX(1.125);-webkit-text-stroke:0.3px #fff;">10,830</div>
<div class="r" style="left:943.3px;top:519.2px;width:960.7px;height:26.4px;background:#4c50d2;"></div>
<div class="t b" style="left:1111.85px;top:520.95px;font-size:22.5px;color:#fff;transform:scaleX(0.995);">Top 5 Revenue Streams ($'000) - 5 years to December 2030</div>
<div class="t b" style="left:1018.35px;top:892.55px;font-size:14px;color:#111;transform:scaleX(1.125);-webkit-text-stroke:0.3px #111;">-</div>
<div class="t b" style="left:984.17px;top:851.9px;font-size:14px;color:#111;transform:scaleX(1.125);-webkit-text-stroke:0.3px #111;">2,000</div>
<div class="t b" style="left:984.17px;top:811.25px;font-size:14px;color:#111;transform:scaleX(1.125);-webkit-text-stroke:0.3px #111;">4,000</div>
<div class="t b" style="left:984.17px;top:770.6px;font-size:14px;color:#111;transform:scaleX(1.125);-webkit-text-stroke:0.3px #111;">6,000</div>
<div class="t b" style="left:984.17px;top:729.95px;font-size:14px;color:#111;transform:scaleX(1.125);-webkit-text-stroke:0.3px #111;">8,000</div>
<div class="t b" style="left:975.41px;top:689.3px;font-size:14px;color:#111;transform:scaleX(1.125);-webkit-text-stroke:0.3px #111;">10,000</div>
<div class="t b" style="left:975.41px;top:648.65px;font-size:14px;color:#111;transform:scaleX(1.125);-webkit-text-stroke:0.3px #111;">12,000</div>
<div class="t b" style="left:975.41px;top:608px;font-size:14px;color:#111;transform:scaleX(1.125);-webkit-text-stroke:0.3px #111;">14,000</div>
<svg class="r" style="left:0px;top:0px;" width="2902" height="1762" viewBox="0 0 2902 1762"><path d="M1040.5 899.1 L1881.4 899.1" stroke="#529fc4" stroke-width="1.3" fill="none"/><path d="M1040.5 858.45 L1881.4 858.45" stroke="#529fc4" stroke-width="1.3" fill="none"/><path d="M1040.5 817.8 L1881.4 817.8" stroke="#529fc4" stroke-width="1.3" fill="none"/><path d="M1040.5 777.15 L1881.4 777.15" stroke="#529fc4" stroke-width="1.3" fill="none"/><path d="M1040.5 736.5 L1881.4 736.5" stroke="#529fc4" stroke-width="1.3" fill="none"/><path d="M1040.5 695.85 L1881.4 695.85" stroke="#529fc4" stroke-width="1.3" fill="none"/><path d="M1040.5 655.2 L1881.4 655.2" stroke="#529fc4" stroke-width="1.3" fill="none"/><path d="M1040.5 614.55 L1881.4 614.55" stroke="#529fc4" stroke-width="1.3" fill="none"/><path d="M1040.5 899.1 L1040.5 903.6" stroke="#529fc4" stroke-width="1.2" fill="none"/><path d="M1209.2 899.1 L1209.2 903.6" stroke="#529fc4" stroke-width="1.2" fill="none"/><path d="M1377.2 899.1 L1377.2 903.6" stroke="#529fc4" stroke-width="1.2" fill="none"/><path d="M1545.5 899.1 L1545.5 903.6" stroke="#529fc4" stroke-width="1.2" fill="none"/><path d="M1714.3 899.1 L1714.3 903.6" stroke="#529fc4" stroke-width="1.2" fill="none"/><path d="M1881.4 899.1 L1881.4 903.6" stroke="#529fc4" stroke-width="1.2" fill="none"/><rect x="1069.4" y="885.5" width="111.3" height="0.8" fill="#f5b51a"/><rect x="1069.4" y="886.3" width="111.3" height="6.5" fill="#f07b70"/><rect x="1069.4" y="892.8" width="111.3" height="2.8" fill="#4c50d2"/><rect x="1069.4" y="895.6" width="111.3" height="3.3" fill="#4ab3e8"/><rect x="1237.4" y="859.8" width="111.3" height="0.8" fill="#f5b51a"/><rect x="1237.4" y="860.6" width="111.3" height="15.3" fill="#f07b70"/><rect x="1237.4" y="875.9" width="111.3" height="10.8" fill="#4c50d2"/><rect x="1237.4" y="886.7" width="111.3" height="12.2" fill="#4ab3e8"/><rect x="1406.1" y="818.8" width="111.3" height="1.7" fill="#f5b51a"/><rect x="1406.1" y="820.5" width="111.3" height="27.7" fill="#f07b70"/><rect x="1406.1" y="848.2" width="111.3" height="23.7" fill="#4c50d2"/><rect x="1406.1" y="871.9" width="111.3" height="27" fill="#4ab3e8"/><rect x="1574" y="757" width="111.3" height="4" fill="#f5b51a"/><rect x="1574" y="761" width="111.3" height="42.2" fill="#f07b70"/><rect x="1574" y="803.2" width="111.3" height="45" fill="#4c50d2"/><rect x="1574" y="848.2" width="111.3" height="50.7" fill="#4ab3e8"/><rect x="1742.4" y="645.3" width="110.9" height="8" fill="#f5b51a"/><rect x="1742.4" y="653.3" width="110.9" height="65.5" fill="#f07b70"/><rect x="1742.4" y="718.8" width="110.9" height="83.2" fill="#4c50d2"/><rect x="1742.4" y="802" width="110.9" height="96.9" fill="#4ab3e8"/></svg>
<div class="r" style="left:1009.2px;top:570px;width:7.5px;height:7.2px;background:#4ab3e8;"></div>
<div class="t b" style="left:1020px;top:567.45px;font-size:14px;color:#111;transform:scaleX(1.041);">Custom AI Model</div>
<div class="r" style="left:1196px;top:570px;width:7.5px;height:7.2px;background:#4c50d2;"></div>
<div class="t b" style="left:1206.8px;top:567.45px;font-size:14px;color:#111;transform:scaleX(1.033);">Data Readiness</div>
<div class="r" style="left:1371.2px;top:570px;width:7.5px;height:7.2px;background:#f07b70;"></div>
<div class="t b" style="left:1382px;top:567.45px;font-size:14px;color:#111;transform:scaleX(1.077);">AI Strategy</div>
<div class="r" style="left:1518.6px;top:570px;width:7.5px;height:7.2px;background:#f5b51a;"></div>
<div class="t b" style="left:1529.5px;top:567.45px;font-size:14px;color:#111;transform:scaleX(1.026);">Ongoing Support</div>
<div class="r" style="left:1704.2px;top:570px;width:7.5px;height:7.2px;background:#2fb5a7;"></div>
<div class="t b" style="left:1715.5px;top:567.45px;font-size:14px;color:#111;transform:scaleX(1.040);">Other Revenue</div>
<div class="t b" style="left:1107.55px;top:925.75px;font-size:14px;color:#111;transform:scaleX(1.140);-webkit-text-stroke:0.3px #111;">2026</div>
<div class="t b" style="left:1275.85px;top:925.75px;font-size:14px;color:#111;transform:scaleX(1.140);-webkit-text-stroke:0.3px #111;">2027</div>
<div class="t b" style="left:1444.25px;top:925.75px;font-size:14px;color:#111;transform:scaleX(1.140);-webkit-text-stroke:0.3px #111;">2028</div>
<div class="t b" style="left:1612.55px;top:925.75px;font-size:14px;color:#111;transform:scaleX(1.140);-webkit-text-stroke:0.3px #111;">2029</div>
<div class="t b" style="left:1780.85px;top:925.75px;font-size:14px;color:#111;transform:scaleX(1.140);-webkit-text-stroke:0.3px #111;">2030</div>
<div class="r" style="left:1914.2px;top:519.3px;width:930.5px;height:26.4px;background:#4c50d2;"></div>
<div class="t b" style="left:2128.95px;top:520.95px;font-size:22.5px;color:#fff;transform:scaleX(1.008);">Profitability ($'000) - 5 years to December 2030</div>
<div class="t b" style="left:2765px;top:894.15px;font-size:14px;color:#111;transform:scaleX(1.125);-webkit-text-stroke:0.3px #111;">-</div>
<div class="t b" style="left:2765px;top:853.31px;font-size:14px;color:#111;transform:scaleX(1.125);-webkit-text-stroke:0.3px #111;">2,000</div>
<div class="t b" style="left:2765px;top:812.47px;font-size:14px;color:#111;transform:scaleX(1.125);-webkit-text-stroke:0.3px #111;">4,000</div>
<div class="t b" style="left:2765px;top:771.63px;font-size:14px;color:#111;transform:scaleX(1.125);-webkit-text-stroke:0.3px #111;">6,000</div>
<div class="t b" style="left:2765px;top:730.79px;font-size:14px;color:#111;transform:scaleX(1.125);-webkit-text-stroke:0.3px #111;">8,000</div>
<div class="t b" style="left:2765px;top:689.95px;font-size:14px;color:#111;transform:scaleX(1.125);-webkit-text-stroke:0.3px #111;">10,000</div>
<div class="t b" style="left:2765px;top:649.11px;font-size:14px;color:#111;transform:scaleX(1.125);-webkit-text-stroke:0.3px #111;">12,000</div>
<div class="t b" style="left:2765px;top:608.27px;font-size:14px;color:#111;transform:scaleX(1.125);-webkit-text-stroke:0.3px #111;">14,000</div>
<svg class="r" style="left:0px;top:0px;" width="2902" height="1762" viewBox="0 0 2902 1762"><path d="M1914.2 900.3 L2747.9 900.3" stroke="#529fc4" stroke-width="1.3" fill="none"/><path d="M1914.2 859.46 L2747.9 859.46" stroke="#529fc4" stroke-width="1.3" fill="none"/><path d="M1914.2 818.62 L2747.9 818.62" stroke="#529fc4" stroke-width="1.3" fill="none"/><path d="M1914.2 777.78 L2747.9 777.78" stroke="#529fc4" stroke-width="1.3" fill="none"/><path d="M1914.2 736.94 L2747.9 736.94" stroke="#529fc4" stroke-width="1.3" fill="none"/><path d="M1914.2 696.1 L2747.9 696.1" stroke="#529fc4" stroke-width="1.3" fill="none"/><path d="M1914.2 655.26 L2747.9 655.26" stroke="#529fc4" stroke-width="1.3" fill="none"/><path d="M1914.2 614.42 L2747.9 614.42" stroke="#529fc4" stroke-width="1.3" fill="none"/><path d="M1914.2 900.3 L1914.2 904.8" stroke="#529fc4" stroke-width="1.2" fill="none"/><path d="M2080.6 900.3 L2080.6 904.8" stroke="#529fc4" stroke-width="1.2" fill="none"/><path d="M2247.3 900.3 L2247.3 904.8" stroke="#529fc4" stroke-width="1.2" fill="none"/><path d="M2413.6 900.3 L2413.6 904.8" stroke="#529fc4" stroke-width="1.2" fill="none"/><path d="M2580.4 900.3 L2580.4 904.8" stroke="#529fc4" stroke-width="1.2" fill="none"/><path d="M2747.9 900.3 L2747.9 904.8" stroke="#529fc4" stroke-width="1.2" fill="none"/><rect x="1924.9" y="887.29" width="72.7" height="12.71" fill="#4c50d2"/><rect x="1997.6" y="899" width="72.6" height="1" fill="#f07b70"/><rect x="2091.3" y="861.01" width="72.7" height="38.99" fill="#4c50d2"/><rect x="2164" y="887.15" width="72.6" height="12.85" fill="#f07b70"/><rect x="2258" y="819.74" width="72.7" height="80.26" fill="#4c50d2"/><rect x="2330.7" y="865.79" width="72.6" height="34.21" fill="#f07b70"/><rect x="2424.3" y="757.11" width="72.7" height="142.89" fill="#4c50d2"/><rect x="2497" y="822.09" width="72.6" height="77.91" fill="#f07b70"/><rect x="2591.1" y="645.3" width="72.7" height="254.7" fill="#4c50d2"/><rect x="2663.8" y="737.65" width="72.6" height="162.35" fill="#f07b70"/><path d="M1996.8 886.9 L2163.1 763.3 L2329.8 725.4 L2496.6 677 L2662.9 640.4" stroke="#2fb5a7" stroke-width="3" fill="none" stroke-linejoin="round"/><circle cx="1996.8" cy="886.9" r="27.6" fill="#2fb5a7"/><circle cx="2163.1" cy="763.3" r="27.6" fill="#2fb5a7"/><circle cx="2329.8" cy="725.4" r="27.6" fill="#2fb5a7"/><circle cx="2496.6" cy="677" r="27.6" fill="#2fb5a7"/><circle cx="2662.9" cy="640.4" r="27.6" fill="#2fb5a7"/><rect x="2074" y="569.7" width="32.6" height="6.9" fill="#4c50d2"/><rect x="2330.3" y="569.7" width="33.3" height="6.9" fill="#f07b70"/><path d="M2578.3 573.2 L2613.7 573.2" stroke="#2fb5a7" stroke-width="3" fill="none"/><circle cx="2596.2" cy="573.2" r="3" fill="#5db36a"/></svg>
<div class="t b" style="left:1978.61px;top:879.85px;font-size:14px;color:#fff;transform:scaleX(1.172);-webkit-text-stroke:0.3px #fff;">3.1%</div>
<div class="t b" style="left:2140.35px;top:756.25px;font-size:14px;color:#fff;transform:scaleX(1.172);-webkit-text-stroke:0.3px #fff;">33.5%</div>
<div class="t b" style="left:2307.05px;top:718.35px;font-size:14px;color:#fff;transform:scaleX(1.172);-webkit-text-stroke:0.3px #fff;">42.8%</div>
<div class="t b" style="left:2473.85px;top:669.95px;font-size:14px;color:#fff;transform:scaleX(1.172);-webkit-text-stroke:0.3px #fff;">54.6%</div>
<div class="t b" style="left:2640.15px;top:633.35px;font-size:14px;color:#fff;transform:scaleX(1.172);-webkit-text-stroke:0.3px #fff;">63.8%</div>
<div class="t b" style="left:2110.7px;top:565.85px;font-size:14px;color:#111;transform:scaleX(1.045);">Revenue</div>
<div class="t b" style="left:2367.7px;top:565.85px;font-size:14px;color:#111;transform:scaleX(1.013);">EBITDA</div>
<div class="t b" style="left:2616.6px;top:565.85px;font-size:14px;color:#111;transform:scaleX(1.089);">EBITDA %</div>
<div class="t b" style="left:1979.85px;top:926.45px;font-size:14px;color:#111;transform:scaleX(1.140);-webkit-text-stroke:0.3px #111;">2026</div>
<div class="t b" style="left:2146.15px;top:926.45px;font-size:14px;color:#111;transform:scaleX(1.140);-webkit-text-stroke:0.3px #111;">2027</div>
<div class="t b" style="left:2312.95px;top:926.45px;font-size:14px;color:#111;transform:scaleX(1.140);-webkit-text-stroke:0.3px #111;">2028</div>
<div class="t b" style="left:2479.65px;top:926.45px;font-size:14px;color:#111;transform:scaleX(1.140);-webkit-text-stroke:0.3px #111;">2029</div>
<div class="t b" style="left:2646.35px;top:926.45px;font-size:14px;color:#111;transform:scaleX(1.140);-webkit-text-stroke:0.3px #111;">2030</div>
<div class="r" style="left:943.3px;top:949.2px;width:960.7px;height:26.6px;background:#4c50d2;"></div>
<div class="t b" style="left:1183.15px;top:951.05px;font-size:22.5px;color:#fff;">Cash flow ($'000) - 5 years to December 2030</div>
<div class="t b" style="left:980.48px;top:1339.07px;font-size:14px;color:#111;transform:scaleX(1.125);-webkit-text-stroke:0.3px #111;">(1,000)</div>
<div class="t b" style="left:1019.25px;top:1300.05px;font-size:14px;color:#111;transform:scaleX(1.125);-webkit-text-stroke:0.3px #111;">-</div>
<div class="t b" style="left:986.97px;top:1261.03px;font-size:14px;color:#111;transform:scaleX(1.125);-webkit-text-stroke:0.3px #111;">1,000</div>
<div class="t b" style="left:986.97px;top:1222.01px;font-size:14px;color:#111;transform:scaleX(1.125);-webkit-text-stroke:0.3px #111;">2,000</div>
<div class="t b" style="left:986.97px;top:1182.99px;font-size:14px;color:#111;transform:scaleX(1.125);-webkit-text-stroke:0.3px #111;">3,000</div>
<div class="t b" style="left:986.97px;top:1143.97px;font-size:14px;color:#111;transform:scaleX(1.125);-webkit-text-stroke:0.3px #111;">4,000</div>
<div class="t b" style="left:986.97px;top:1104.95px;font-size:14px;color:#111;transform:scaleX(1.125);-webkit-text-stroke:0.3px #111;">5,000</div>
<div class="t b" style="left:986.97px;top:1065.93px;font-size:14px;color:#111;transform:scaleX(1.125);-webkit-text-stroke:0.3px #111;">6,000</div>
<div class="t b" style="left:986.97px;top:1026.91px;font-size:14px;color:#111;transform:scaleX(1.125);-webkit-text-stroke:0.3px #111;">7,000</div>
<svg class="r" style="left:0px;top:0px;" width="2902" height="1762" viewBox="0 0 2902 1762"><path d="M1044.5 1345.42 L1901.5 1345.42" stroke="#529fc4" stroke-width="1.3" fill="none"/><path d="M1044.5 1306.4 L1901.5 1306.4" stroke="#529fc4" stroke-width="1.3" fill="none"/><path d="M1044.5 1267.38 L1901.5 1267.38" stroke="#529fc4" stroke-width="1.3" fill="none"/><path d="M1044.5 1228.36 L1901.5 1228.36" stroke="#529fc4" stroke-width="1.3" fill="none"/><path d="M1044.5 1189.34 L1901.5 1189.34" stroke="#529fc4" stroke-width="1.3" fill="none"/><path d="M1044.5 1150.32 L1901.5 1150.32" stroke="#529fc4" stroke-width="1.3" fill="none"/><path d="M1044.5 1111.3 L1901.5 1111.3" stroke="#529fc4" stroke-width="1.3" fill="none"/><path d="M1044.5 1072.28 L1901.5 1072.28" stroke="#529fc4" stroke-width="1.3" fill="none"/><path d="M1044.5 1033.26 L1901.5 1033.26" stroke="#529fc4" stroke-width="1.3" fill="none"/><path d="M1044.5 1306.4 L1044.5 1310.9" stroke="#529fc4" stroke-width="1.2" fill="none"/><path d="M1215.7 1306.4 L1215.7 1310.9" stroke="#529fc4" stroke-width="1.2" fill="none"/><path d="M1387.6 1306.4 L1387.6 1310.9" stroke="#529fc4" stroke-width="1.2" fill="none"/><path d="M1559.2 1306.4 L1559.2 1310.9" stroke="#529fc4" stroke-width="1.2" fill="none"/><path d="M1731.6 1306.4 L1731.6 1310.9" stroke="#529fc4" stroke-width="1.2" fill="none"/><path d="M1901.5 1306.4 L1901.5 1310.9" stroke="#529fc4" stroke-width="1.2" fill="none"/><rect x="1073.4" y="1267.5" width="113.3" height="38.9" fill="#f07b70"/><rect x="1073.4" y="1306.4" width="113.3" height="3.6" fill="#4c50d2"/><rect x="1244.2" y="1289.54" width="114.5" height="16.86" fill="#4ab3e8"/><rect x="1244.2" y="1307" width="114.5" height="1.4" fill="#f07b70"/><rect x="1416.2" y="1259.65" width="114.5" height="46.75" fill="#4ab3e8"/><rect x="1416.2" y="1307" width="114.5" height="1.4" fill="#f07b70"/><rect x="1588.1" y="1199.1" width="114.5" height="107.31" fill="#4ab3e8"/><rect x="1588.1" y="1307" width="114.5" height="1.4" fill="#f07b70"/><rect x="1760.1" y="1082.23" width="113.7" height="224.17" fill="#4ab3e8"/><rect x="1760.1" y="1307" width="113.7" height="1.4" fill="#f07b70"/><path d="M1129.3 1271.82 L1301.2 1291.84 L1473.2 1262.03 L1645.2 1201.51 L1817.1 1084.72" stroke="#2fb5a7" stroke-width="3" fill="none" stroke-linejoin="round"/><circle cx="1129.3" cy="1271.82" r="27.8" fill="#2fb5a7"/><circle cx="1301.2" cy="1291.84" r="27.8" fill="#2fb5a7"/><circle cx="1473.2" cy="1262.03" r="27.8" fill="#2fb5a7"/><circle cx="1645.2" cy="1201.51" r="27.8" fill="#2fb5a7"/><circle cx="1817.1" cy="1084.72" r="27.8" fill="#2fb5a7"/><rect x="1045.7" y="990.2" width="33.8" height="7.3" fill="#4ab3e8"/><rect x="1256.2" y="990.2" width="32.6" height="7.3" fill="#4c50d2"/><rect x="1462" y="990.2" width="32.5" height="7.3" fill="#f07b70"/><path d="M1668.5 994 L1703.4 994" stroke="#2fb5a7" stroke-width="3" fill="none"/><circle cx="1685.3" cy="994" r="3" fill="#5db36a"/></svg>
<div class="t b" style="left:1116.46px;top:1264.77px;font-size:14px;color:#fff;transform:scaleX(1.125);-webkit-text-stroke:0.3px #fff;">899</div>
<div class="t b" style="left:1288.36px;top:1284.79px;font-size:14px;color:#fff;transform:scaleX(1.125);-webkit-text-stroke:0.3px #fff;">386</div>
<div class="t b" style="left:1453.79px;top:1254.98px;font-size:14px;color:#fff;transform:scaleX(1.125);-webkit-text-stroke:0.3px #fff;">1,150</div>
<div class="t b" style="left:1625.79px;top:1194.46px;font-size:14px;color:#fff;transform:scaleX(1.125);-webkit-text-stroke:0.3px #fff;">2,701</div>
<div class="t b" style="left:1797.69px;top:1077.67px;font-size:14px;color:#fff;transform:scaleX(1.125);-webkit-text-stroke:0.3px #fff;">5,694</div>
<div class="t b" style="left:1083.5px;top:987.15px;font-size:14px;color:#111;transform:scaleX(1.039);">Operating</div>
<div class="t b" style="left:1292.8px;top:987.15px;font-size:14px;color:#111;transform:scaleX(1.072);">Investing</div>
<div class="t b" style="left:1498.5px;top:987.15px;font-size:14px;color:#111;transform:scaleX(1.021);">Financing</div>
<div class="t b" style="left:1706.2px;top:987.15px;font-size:14px;color:#111;transform:scaleX(1.034);">Net Cash Flow</div>
<div class="t b" style="left:1112.25px;top:1372.75px;font-size:14px;color:#111;transform:scaleX(1.140);-webkit-text-stroke:0.3px #111;">2026</div>
<div class="t b" style="left:1283.85px;top:1372.75px;font-size:14px;color:#111;transform:scaleX(1.140);-webkit-text-stroke:0.3px #111;">2027</div>
<div class="t b" style="left:1455.85px;top:1372.75px;font-size:14px;color:#111;transform:scaleX(1.140);-webkit-text-stroke:0.3px #111;">2028</div>
<div class="t b" style="left:1627.85px;top:1372.75px;font-size:14px;color:#111;transform:scaleX(1.140);-webkit-text-stroke:0.3px #111;">2029</div>
<div class="t b" style="left:1799.35px;top:1372.75px;font-size:14px;color:#111;transform:scaleX(1.140);-webkit-text-stroke:0.3px #111;">2030</div>
<div class="r" style="left:1914.2px;top:949.4px;width:930.5px;height:26.4px;background:#4c50d2;"></div>
<div class="t b" style="left:2050.85px;top:950.85px;font-size:22.5px;color:#fff;transform:scaleX(1.004);">Investment Payback Chart ($'000) - 5 years to December 2030</div>
<div class="t b" style="left:2762.9px;top:1339.01px;font-size:14px;color:#111;transform:scaleX(1.125);-webkit-text-stroke:0.3px #111;">(2,000)</div>
<div class="t b" style="left:2762.9px;top:1294.45px;font-size:14px;color:#111;transform:scaleX(1.125);-webkit-text-stroke:0.3px #111;">-</div>
<div class="t b" style="left:2762.9px;top:1249.89px;font-size:14px;color:#111;transform:scaleX(1.125);-webkit-text-stroke:0.3px #111;">2,000</div>
<div class="t b" style="left:2762.9px;top:1205.33px;font-size:14px;color:#111;transform:scaleX(1.125);-webkit-text-stroke:0.3px #111;">4,000</div>
<div class="t b" style="left:2762.9px;top:1160.77px;font-size:14px;color:#111;transform:scaleX(1.125);-webkit-text-stroke:0.3px #111;">6,000</div>
<div class="t b" style="left:2762.9px;top:1116.21px;font-size:14px;color:#111;transform:scaleX(1.125);-webkit-text-stroke:0.3px #111;">8,000</div>
<div class="t b" style="left:2762.9px;top:1071.65px;font-size:14px;color:#111;transform:scaleX(1.125);-webkit-text-stroke:0.3px #111;">10,000</div>
<div class="t b" style="left:2762.9px;top:1027.09px;font-size:14px;color:#111;transform:scaleX(1.125);-webkit-text-stroke:0.3px #111;">12,000</div>
<svg class="r" style="left:0px;top:0px;" width="2902" height="1762" viewBox="0 0 2902 1762"><rect x="2087.9" y="1033.1" width="165.1" height="311.9" fill="#a6daf4"/><path d="M1923.6 1345.26 L2745.9 1345.26" stroke="#4fa8cf" stroke-width="1.3" fill="none"/><path d="M1923.6 1256.14 L2745.9 1256.14" stroke="#4fa8cf" stroke-width="1.3" fill="none"/><path d="M1923.6 1211.58 L2745.9 1211.58" stroke="#4fa8cf" stroke-width="1.3" fill="none"/><path d="M1923.6 1167.02 L2745.9 1167.02" stroke="#4fa8cf" stroke-width="1.3" fill="none"/><path d="M1923.6 1122.46 L2745.9 1122.46" stroke="#4fa8cf" stroke-width="1.3" fill="none"/><path d="M1923.6 1077.9 L2745.9 1077.9" stroke="#4fa8cf" stroke-width="1.3" fill="none"/><path d="M1923.6 1033.34 L2745.9 1033.34" stroke="#4fa8cf" stroke-width="1.3" fill="none"/><path d="M1923.6 1300.7 L2745.9 1300.7" stroke="#3f9fd8" stroke-width="2.4" fill="none"/><path d="M1923.6 1300.7 L1923.6 1305.7" stroke="#3f9fd8" stroke-width="1.6" fill="none"/><path d="M2087.9 1300.7 L2087.9 1305.7" stroke="#3f9fd8" stroke-width="1.6" fill="none"/><path d="M2253 1300.7 L2253 1305.7" stroke="#3f9fd8" stroke-width="1.6" fill="none"/><path d="M2416.9 1300.7 L2416.9 1305.7" stroke="#3f9fd8" stroke-width="1.6" fill="none"/><path d="M2581.2 1300.7 L2581.2 1305.7" stroke="#3f9fd8" stroke-width="1.6" fill="none"/><path d="M2745.9 1300.7 L2745.9 1305.7" stroke="#3f9fd8" stroke-width="1.6" fill="none"/><path d="M2005.7 1301.1 L2169.6 1291.4 L2333.5 1262.1 L2498.2 1198.2 L2662.5 1065.3" stroke="#2fb5a7" stroke-width="3" fill="none" stroke-linejoin="round"/><circle cx="2005.7" cy="1301.1" r="13" fill="#2fb5a7"/><circle cx="2169.6" cy="1291.4" r="13" fill="#2fb5a7"/><circle cx="2333.5" cy="1262.1" r="13" fill="#2fb5a7"/><circle cx="2498.2" cy="1198.2" r="13" fill="#2fb5a7"/><circle cx="2662.5" cy="1065.3" r="13" fill="#2fb5a7"/><rect x="2106.6" y="992" width="33.3" height="7.8" fill="#a6daf4"/><path d="M2331.1 995.9 L2366.4 995.9" stroke="#2fb5a7" stroke-width="3" fill="none"/><circle cx="2347.7" cy="995.9" r="3" fill="#5db36a"/></svg>
<div class="t b" style="left:2143.2px;top:989.45px;font-size:14px;color:#111;transform:scaleX(1.044);">Payback year</div>
<div class="t b" style="left:2369.3px;top:989.45px;font-size:14px;color:#111;transform:scaleX(1.051);">Cumulative Cash Generated (Spent)</div>
<div class="t b" style="left:1988.75px;top:1372.05px;font-size:14px;color:#111;transform:scaleX(1.140);-webkit-text-stroke:0.3px #111;">2026</div>
<div class="t b" style="left:2153.05px;top:1372.05px;font-size:14px;color:#111;transform:scaleX(1.140);-webkit-text-stroke:0.3px #111;">2027</div>
<div class="t b" style="left:2317.35px;top:1372.05px;font-size:14px;color:#111;transform:scaleX(1.140);-webkit-text-stroke:0.3px #111;">2028</div>
<div class="t b" style="left:2481.65px;top:1372.05px;font-size:14px;color:#111;transform:scaleX(1.140);-webkit-text-stroke:0.3px #111;">2029</div>
<div class="t b" style="left:2645.95px;top:1372.05px;font-size:14px;color:#111;transform:scaleX(1.140);-webkit-text-stroke:0.3px #111;">2030</div>
<div class="r" style="left:2860.5px;top:278px;width:30px;height:1391.8px;background:#0a0a0a;"></div>
<div class="r" style="left:2860.5px;top:280px;width:28.5px;height:1389.8px;background:#151515;border-radius:13px 13px 0 0;"></div>
<svg class="r" style="left:2868.5px;top:285.5px;" width="15" height="11" viewBox="0 0 15 11"><path d="M7.500 1 L14 10 H1 Z" fill="#9a9a9a" stroke="#9a9a9a" stroke-width="1.300" stroke-linejoin="round"/></svg>
<div class="r" style="left:2870px;top:304.6px;width:12px;height:1143.2px;background:#9a9a9a;border-radius:6px;"></div>
<svg class="r" style="left:2870px;top:1654.5px;" width="13" height="9" viewBox="0 0 13 9"><path d="M0.500 0.500 H12.500 L6.500 8.500 Z" fill="#9a9a9a" stroke="#9a9a9a" stroke-width="1" stroke-linejoin="round"/></svg>
<div class="r" style="left:11px;top:1669.8px;width:2880px;height:48.2px;background:#0a0a0a;"></div>
<div class="r" style="left:285px;top:1669.8px;width:160px;height:48.2px;background:#fff;"></div>
<div class="r" style="left:11px;top:1669.8px;width:287.6px;height:48.2px;background:#0a0a0a;border-radius:0 9px 0 0;"></div>
<div class="r" style="left:427.2px;top:1669.8px;width:2463.3px;height:48.2px;background:#0a0a0a;border-radius:9px 0 0 0;"></div>
<div class="r" style="left:290px;top:1690px;width:150px;height:28px;background:#0a0a0a;"></div>
<svg class="r" style="left:45px;top:1685px;" width="12" height="16" viewBox="0 0 12 16"><path d="M10 1 L1.500 8 L10 15" fill="none" stroke="#8a8a8a" stroke-width="1.700"/></svg>
<svg class="r" style="left:94px;top:1685px;" width="12" height="16" viewBox="0 0 12 16"><path d="M2 1 L10.500 8 L2 15" fill="none" stroke="#d0d0d0" stroke-width="1.700"/></svg>
<div class="t" style="left:190.5px;top:1685.68px;font-size:22px;color:#fff;transform:scaleX(0.929);">Contents</div>
<div class="r" style="left:291.7px;top:1680.7px;width:1px;height:26.5px;background:#5a5a5a;"></div>
<div class="r" style="left:298.6px;top:1669.8px;width:128.6px;height:42.5px;background:linear-gradient(#ffffff 25%,#fffbd8 100%);border-radius:0 0 9px 9px;"></div>
<div class="t" style="left:311.8px;top:1680.18px;font-size:22px;color:#111;transform:scaleX(0.953);">Dashboard</div>
<div class="r" style="left:311px;top:1704.6px;width:104px;height:3px;background:#1a7f43;border-radius:1px;"></div>
<div class="r" style="left:433.3px;top:1680.7px;width:1px;height:26.5px;background:#5a5a5a;"></div>
<div class="r" style="left:439.8px;top:1676.3px;width:106.1px;height:36px;background:#fff066;border-radius:6.5px;"></div>
<div class="t" style="left:455px;top:1685.68px;font-size:22px;color:#111;transform:scaleX(0.879);">Revenue</div>
<div class="r" style="left:552.2px;top:1680.7px;width:1px;height:26.5px;background:#5a5a5a;"></div>
<div class="r" style="left:558.7px;top:1676.3px;width:158.1px;height:36px;background:#fff066;border-radius:6.5px;"></div>
<div class="t" style="left:572px;top:1685.68px;font-size:22px;color:#111;transform:scaleX(0.869);">COGS &amp; OPEX</div>
<div class="r" style="left:723.2px;top:1680.7px;width:1px;height:26.5px;background:#5a5a5a;"></div>
<div class="r" style="left:729.7px;top:1676.3px;width:89.3px;height:36px;background:#fff066;border-radius:6.5px;"></div>
<div class="t" style="left:743px;top:1685.68px;font-size:22px;color:#111;transform:scaleX(0.922);">Payroll</div>
<div class="r" style="left:825px;top:1680.7px;width:1px;height:26.5px;background:#5a5a5a;"></div>
<div class="r" style="left:831.5px;top:1676.3px;width:87.5px;height:36px;background:#fff066;border-radius:6.5px;"></div>
<div class="t" style="left:845px;top:1685.68px;font-size:22px;color:#111;transform:scaleX(0.818);">CAPEX</div>
<div class="r" style="left:925.5px;top:1680.7px;width:1px;height:26.5px;background:#5a5a5a;"></div>
<div class="r" style="left:932px;top:1676.3px;width:113px;height:36px;background:#fff066;border-radius:6.5px;"></div>
<div class="t" style="left:945px;top:1685.68px;font-size:22px;color:#111;transform:scaleX(0.925);">CapTable</div>
<div class="r" style="left:1051.5px;top:1680.7px;width:1px;height:26.5px;background:#5a5a5a;"></div>
<div class="r" style="left:1058px;top:1676.3px;width:90px;height:36px;background:#fff066;border-radius:6.5px;"></div>
<div class="t" style="left:1071px;top:1685.68px;font-size:22px;color:#111;transform:scaleX(0.929);">Capital</div>
<div class="r" style="left:1154.5px;top:1680.7px;width:1px;height:26.5px;background:#5a5a5a;"></div>
<div class="r" style="left:1161px;top:1676.3px;width:42.4px;height:36px;background:#4ab3e8;border-radius:6.5px;"></div>
<div class="t" style="left:1174px;top:1685.68px;font-size:22px;color:#111;transform:scaleX(0.794);">IS</div>
<div class="r" style="left:1209.3px;top:1680.7px;width:1px;height:26.5px;background:#5a5a5a;"></div>
<div class="r" style="left:1215.8px;top:1676.3px;width:48.2px;height:36px;background:#4ab3e8;border-radius:6.5px;"></div>
<div class="t" style="left:1228.8px;top:1685.68px;font-size:22px;color:#111;transform:scaleX(0.757);">CF</div>
<div class="r" style="left:1270.5px;top:1680.7px;width:1px;height:26.5px;background:#5a5a5a;"></div>
<div class="r" style="left:1277px;top:1676.3px;width:48px;height:36px;background:#4ab3e8;border-radius:6.5px;"></div>
<div class="t" style="left:1290px;top:1685.68px;font-size:22px;color:#111;transform:scaleX(0.750);">BS</div>
<div class="r" style="left:1331.5px;top:1680.7px;width:1px;height:26.5px;background:#5a5a5a;"></div>
<div class="r" style="left:1338px;top:1676.3px;width:114px;height:36px;background:#4ab3e8;border-radius:6.5px;"></div>
<div class="t" style="left:1351px;top:1685.68px;font-size:22px;color:#111;transform:scaleX(0.897);">Scenarios</div>
<div class="r" style="left:1459.5px;top:1680.7px;width:1px;height:26.5px;background:#5a5a5a;"></div>
<div class="r" style="left:1466px;top:1676.3px;width:114.8px;height:36px;background:#4ab3e8;border-radius:6.5px;"></div>
<div class="t" style="left:1479.5px;top:1685.68px;font-size:22px;color:#111;transform:scaleX(0.968);">Valuation</div>
<div class="r" style="left:1587.9px;top:1680.7px;width:1px;height:26.5px;background:#5a5a5a;"></div>
<div class="r" style="left:1594.4px;top:1676.3px;width:113.6px;height:36px;background:#4ab3e8;border-radius:6.5px;"></div>
<div class="t" style="left:1608px;top:1685.68px;font-size:22px;color:#111;transform:scaleX(0.924);">Summary</div>
<div class="r" style="left:1714.5px;top:1680.7px;width:1px;height:26.5px;background:#5a5a5a;"></div>
<div class="r" style="left:1721px;top:1676.3px;width:47.8px;height:36px;background:#4ab3e8;border-radius:6.5px;"></div>
<div class="t" style="left:1734px;top:1685.68px;font-size:22px;color:#111;transform:scaleX(0.767);">BE</div>
<div class="r" style="left:1775.3px;top:1680.7px;width:1px;height:26.5px;background:#5a5a5a;"></div>
<div class="r" style="left:1781.8px;top:1676.3px;width:72.2px;height:36px;background:#4ab3e8;border-radius:6.5px;"></div>
<div class="t" style="left:1794.8px;top:1685.68px;font-size:22px;color:#111;transform:scaleX(0.858);">ROIC</div>
<div class="r" style="left:1860.1px;top:1680.7px;width:1px;height:26.5px;background:#5a5a5a;"></div>
<div class="r" style="left:1866.6px;top:1676.3px;width:85.4px;height:36px;background:#4ab3e8;border-radius:6.5px;"></div>
<div class="t" style="left:1880px;top:1685.68px;font-size:22px;color:#111;transform:scaleX(0.895);">Charts</div>
<div class="r" style="left:1958.5px;top:1680.7px;width:1px;height:26.5px;background:#5a5a5a;"></div>
<div class="r" style="left:1965px;top:1676.3px;width:64px;height:36px;background:#4ab3e8;border-radius:6.5px;"></div>
<div class="t" style="left:1978px;top:1685.68px;font-size:22px;color:#111;transform:scaleX(0.818);">KPIs</div>
<div class="r" style="left:2035.5px;top:1680.7px;width:1px;height:26.5px;background:#5a5a5a;"></div>
<div class="r" style="left:2042px;top:1676.3px;width:30px;height:36px;overflow:hidden;"><div class="r" style="left:0;top:0;width:60px;height:36px;background:#4ab3e8;border-radius:6.5px;"></div><div class="t" style="left:12.3px;top:9.38px;font-size:22px;color:#111;transform:scaleX(0.9);">Sc</div></div>
<div class="r" style="left:2086.5px;top:1690.7px;width:3.3px;height:3.3px;background:#e0e0e0;border-radius:50%;"></div>
<div class="r" style="left:2092.5px;top:1690.7px;width:3.3px;height:3.3px;background:#e0e0e0;border-radius:50%;"></div>
<div class="r" style="left:2098.5px;top:1690.7px;width:3.3px;height:3.3px;background:#e0e0e0;border-radius:50%;"></div>
<svg class="r" style="left:2134px;top:1683.5px;" width="18" height="18" viewBox="0 0 18 18"><path d="M9 1 V17 M1 9 H17" stroke="#e0e0e0" stroke-width="1.600"/></svg>
<div class="r" style="left:2189.7px;top:1685px;width:3px;height:3px;background:#e0e0e0;border-radius:50%;"></div>
<div class="r" style="left:2189.7px;top:1691.5px;width:3px;height:3px;background:#e0e0e0;border-radius:50%;"></div>
<div class="r" style="left:2189.7px;top:1698px;width:3px;height:3px;background:#e0e0e0;border-radius:50%;"></div>
<div class="r" style="left:2216px;top:1681.5px;width:648px;height:23px;background:#161616;border-radius:11.5px;"></div>
<svg class="r" style="left:2223px;top:1686.5px;" width="11" height="13" viewBox="0 0 11 13"><path d="M10 0.800 V12.200 L0.800 6.500 Z" fill="#9a9a9a"/></svg>
<div class="r" style="left:2241.4px;top:1686.4px;width:553.6px;height:13px;background:#9a9a9a;border-radius:6.5px;"></div>
<svg class="r" style="left:2845px;top:1686.5px;" width="11" height="13" viewBox="0 0 11 13"><path d="M1 0.800 V12.200 L10.200 6.500 Z" fill="#9a9a9a"/></svg>
<div class="r" style="left:11px;top:1718px;width:2879.5px;height:32px;background:#141414;"></div>
<div class="r" style="left:11px;top:1717.5px;width:2879.5px;height:1px;background:#2a2a2a;"></div>
<div class="t" style="left:27px;top:1727.03px;font-size:16.5px;color:#e8e8e8;transform:scaleX(0.902);">Ready</div>
<svg class="r" style="left:98px;top:1725.5px;" width="24" height="22" viewBox="0 0 24 22"><path d="M2 2 H22 V8 M2 2 V19 H9 M5 6 H19 M5 10 H10 M5 14 H9" fill="none" stroke="#e0e0e0" stroke-width="1.500"/><circle cx="16.500" cy="14" r="6" fill="none" stroke="#e0e0e0" stroke-width="1.500"/><circle cx="16.500" cy="14" r="3" fill="#e0e0e0"/></svg>
<svg class="r" style="left:145px;top:1724px;" width="24" height="24" viewBox="0 0 24 24"><circle cx="10" cy="3.800" r="2.500" fill="none" stroke="#e0e0e0" stroke-width="1.400"/><path d="M2 8 Q10 11 18 7 M7.500 9.500 L7 15 L3.500 21 M12.500 9.500 L12.500 14 M14 14 L22 22 M22 14 L14 22" fill="none" stroke="#e0e0e0" stroke-width="1.500" stroke-linecap="round"/></svg>
<div class="t b" style="left:172.5px;top:1727.03px;font-size:16.5px;color:#f2f2f2;transform:scaleX(0.956);">Accessibility: Investigate</div>
<div class="r" style="left:2444.7px;top:1718.5px;width:60.1px;height:31.5px;background:#242424;"></div>
<svg class="r" style="left:2463.5px;top:1724.5px;" width="21" height="21" viewBox="0 0 21 21"><path d="M1 1 H19.500 V19.500 H1 Z M1 7.200 H19.500 M1 13.400 H19.500 M7.200 1 V19.500 M13.400 1 V19.500" fill="none" stroke="#f0f0f0" stroke-width="1.500"/></svg>
<svg class="r" style="left:2523.5px;top:1724.5px;" width="23" height="21" viewBox="0 0 23 21"><path d="M1 1 H21 V19.500 H1 Z" fill="none" stroke="#f0f0f0" stroke-width="1.500"/><path d="M5.500 4.500 H16.500 V16 H5.500 Z M8 7.500 H14 M8 10.250 H14 M8 13 H14" fill="none" stroke="#f0f0f0" stroke-width="1.300"/></svg>
<svg class="r" style="left:2583.5px;top:1724.5px;" width="23" height="21" viewBox="0 0 23 21"><path d="M1 1 H21 V19.500 H1 Z M6.500 1 V11 H15.500 V1 M11 1 V11" fill="none" stroke="#f0f0f0" stroke-width="1.500"/></svg>
<div class="r" style="left:2633px;top:1734.2px;width:11.5px;height:1.3px;background:#bdbdbd;"></div>
<div class="r" style="left:2653px;top:1734.3px;width:147.6px;height:1.2px;background:#9a9a9a;"></div>
<div class="r" style="left:2712.8px;top:1726.5px;width:7.7px;height:16px;background:#bdbdbd;border-radius:1px;"></div>
<div class="r" style="left:2725.5px;top:1730.5px;width:1.2px;height:8.5px;background:#9a9a9a;"></div>
<svg class="r" style="left:2809px;top:1729px;" width="12" height="12" viewBox="0 0 12 12"><path d="M6 0.500 V11.500 M0.500 6 H11.500" stroke="#bdbdbd" stroke-width="1.300"/></svg>
<div class="t" style="left:2839px;top:1727.46px;font-size:16px;color:#e8e8e8;transform:scaleX(0.968);">87%</div>
</body></html>
